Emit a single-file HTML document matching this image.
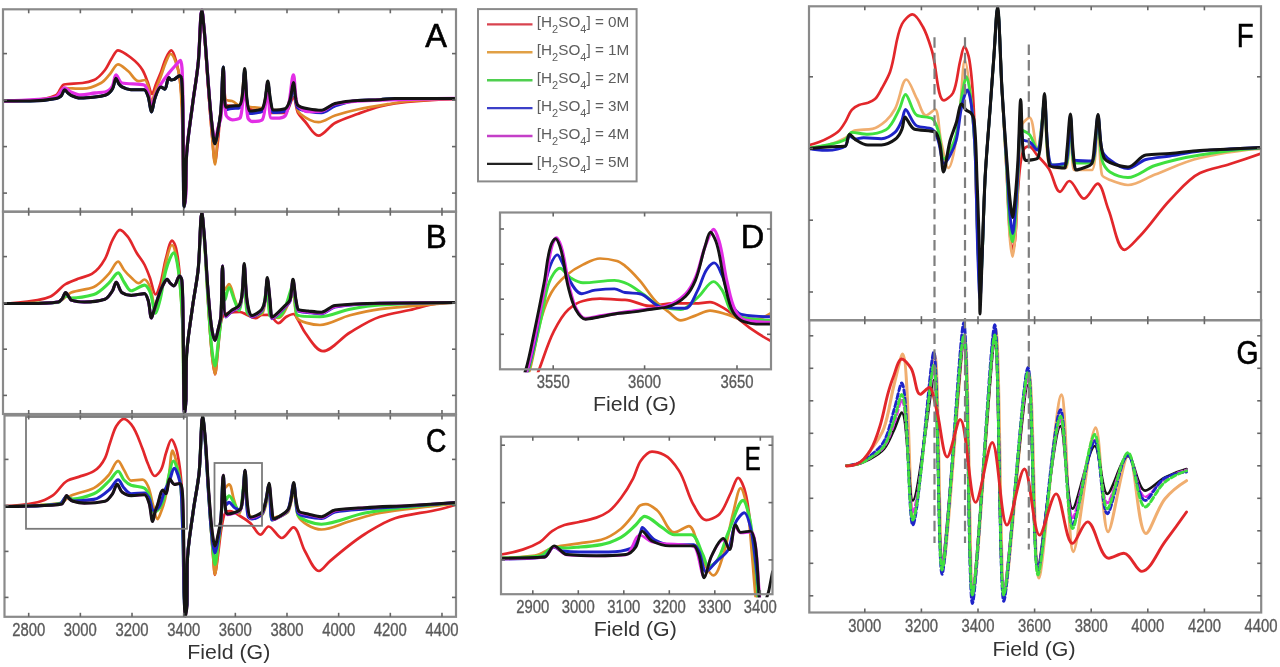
<!DOCTYPE html>
<html><head><meta charset="utf-8"><style>
html,body{margin:0;padding:0;background:#fff;overflow:hidden}
svg{display:block;font-family:"Liberation Sans",sans-serif;filter:blur(0.45px)}
</style></head><body>
<svg width="1280" height="667" viewBox="0 0 1280 667">
<rect width="1280" height="667" fill="#fff"/>
<defs>
<clipPath id="cA"><rect x="3.0" y="6.300000000000001" width="453.0" height="208.39999999999998"/></clipPath>
<clipPath id="cB"><rect x="3.0" y="208.7" width="453.0" height="208.3"/></clipPath>
<clipPath id="cC"><rect x="4.5" y="412.5" width="451.5" height="207.29999999999995"/></clipPath>
<clipPath id="cD"><rect x="500.0" y="209.5" width="271.0" height="162.8"/></clipPath>
<clipPath id="cE"><rect x="501.0" y="433.7" width="271.5" height="163.50000000000006"/></clipPath>
<clipPath id="cF"><rect x="809.0" y="3.3" width="452.0" height="319.9"/></clipPath>
<clipPath id="cG"><rect x="809.3" y="317.2" width="451.9000000000001" height="298.3"/></clipPath>
</defs>
<path d="M3.0,101.0C12.1,101.0 21.1,100.8 30.0,100.5C38.8,100.2 49.6,98.3 56.0,95.3C59.2,93.8 60.7,85.2 64.0,84.5C68.6,83.5 76.4,83.8 82.5,83.0C86.4,82.5 90.7,81.4 94.0,80.0C98.2,78.2 102.0,73.8 105.0,70.0C107.8,66.5 109.4,61.8 112.0,58.0C113.8,55.3 115.7,50.3 118.0,50.3C121.6,50.3 127.2,54.8 131.0,57.8C135.3,61.1 139.7,65.4 142.5,70.0C144.8,73.8 146.3,78.6 148.0,83.0C149.4,86.6 150.6,94.0 152.0,94.0C153.3,94.0 154.6,87.3 156.0,84.0C157.6,80.0 159.4,76.0 161.0,72.0C162.8,67.4 163.9,62.3 166.0,58.0C167.3,55.3 169.8,50.4 171.3,50.4C173.1,50.4 175.0,57.1 176.0,60.6C177.9,67.1 179.2,74.2 180.0,81.0C181.2,90.6 182.1,100.3 182.5,110.0C183.6,136.6 182.6,190.0 184.5,190.0C184.5,190.0 186.0,190.0 186.0,190.0C186.3,190.0 186.1,170.0 186.3,160.0C186.6,141.6 190.2,123.3 192.5,105.0C194.3,90.6 196.9,76.4 198.3,62.0C199.9,45.4 200.4,12.0 201.9,12.0C202.5,12.0 203.4,24.0 204.0,30.0C205.7,48.3 206.6,66.7 208.0,85.0C209.3,101.7 210.4,118.4 212.0,135.0C212.9,144.0 213.9,162.0 215.0,162.0C215.9,162.0 217.2,147.3 218.0,140.0C219.2,129.4 219.7,118.6 221.0,108.0C221.6,102.6 222.6,92.0 223.5,92.0C224.3,92.0 224.6,104.4 226.0,105.0C227.5,105.6 237.3,106.0 240.0,106.0C242.2,106.0 243.5,96.0 244.7,96.0C246.1,96.0 246.3,106.6 248.0,108.0C250.0,109.7 259.4,111.0 262.0,111.0C264.8,111.0 266.5,97.0 267.8,97.0C269.2,97.0 269.2,113.0 271.0,113.0C272.6,113.0 282.0,113.0 285.0,113.0C288.9,113.0 291.3,97.0 293.4,97.0C295.3,97.0 295.8,108.3 298.0,113.0C299.5,116.1 302.6,118.7 305.0,121.5C309.3,126.4 313.7,135.7 318.5,135.7C323.6,135.7 329.1,126.2 335.0,123.0C341.9,119.2 349.9,116.8 357.5,114.0C364.9,111.3 372.4,108.4 380.0,106.5C384.9,105.3 390.0,104.2 395.0,103.5C403.3,102.4 411.7,101.6 420.0,101.0C432.0,100.1 444.0,99.4 456.0,99.0" fill="none" stroke="#e2272b" stroke-width="2.7" stroke-linejoin="round" stroke-linecap="round" clip-path="url(#cA)"/>
<path d="M3.0,101.0C25.5,101.0 42.4,99.9 56.0,97.0C59.1,96.3 60.8,88.0 64.0,88.0C68.9,88.0 76.5,88.7 82.5,88.7C88.8,88.7 95.8,85.8 101.0,83.0C104.4,81.2 107.1,77.1 110.0,74.0C112.8,70.9 115.0,64.4 118.0,64.4C120.9,64.4 124.9,68.6 128.0,71.0C131.8,74.0 134.5,81.2 138.7,81.2C140.5,81.2 143.7,80.0 145.0,80.0C146.4,80.0 147.3,83.9 148.0,86.0C149.7,91.1 150.1,102.0 151.5,102.0C152.4,102.0 153.8,95.3 155.0,92.0C156.9,86.6 159.0,81.3 161.0,76.0C162.7,71.3 164.0,66.5 166.0,62.0C167.3,59.2 169.0,54.0 170.6,54.0C172.4,54.0 174.9,59.8 176.0,63.0C177.9,68.3 179.5,74.3 180.0,80.0C181.5,96.4 181.9,113.3 182.5,130.0C183.3,151.7 182.9,195.0 184.5,195.0C184.6,195.0 186.0,191.7 186.0,190.0C186.2,180.3 186.1,170.0 186.3,160.0C186.6,141.6 190.2,123.3 192.5,105.0C194.3,90.6 197.0,76.4 198.3,62.0C199.9,44.7 200.4,10.0 201.9,10.0C202.5,10.0 203.4,23.3 204.0,30.0C205.6,48.3 206.6,66.7 208.0,85.0C209.3,101.7 210.5,118.4 212.0,135.0C212.9,144.8 214.0,164.4 215.0,164.4C216.0,164.4 216.8,142.8 218.0,132.0C218.9,124.0 220.3,116.0 221.0,108.0C222.0,96.0 222.4,72.0 223.3,72.0C224.0,72.0 224.0,97.7 226.0,100.0C226.4,100.5 230.2,100.5 232.0,101.0C234.5,101.7 238.1,105.6 239.0,105.6C242.7,105.6 243.3,72.0 244.7,72.0C246.1,72.0 245.7,103.4 248.0,106.0C248.9,107.1 260.1,108.0 262.0,108.0C265.3,108.0 266.5,84.0 267.8,84.0C269.2,84.0 268.9,110.0 271.0,110.0C272.1,110.0 282.6,110.0 285.0,110.0C289.5,110.0 291.4,85.0 293.4,85.0C295.4,85.0 295.2,103.6 298.0,111.0C298.4,112.1 299.6,113.2 300.5,114.0C305.3,117.8 312.4,122.2 318.5,122.2C324.0,122.2 329.4,117.3 335.0,115.5C342.3,113.1 349.9,111.1 357.5,109.5C367.4,107.4 377.5,105.8 387.5,104.2C395.0,103.0 402.5,101.6 410.0,101.0C425.3,99.8 440.6,98.8 456.0,98.8" fill="none" stroke="#de8a2c" stroke-width="2.7" stroke-linejoin="round" stroke-linecap="round" clip-path="url(#cA)"/>
<path d="M3.0,101.0C12.0,101.0 21.0,101.0 30.0,101.0C38.7,101.0 47.9,100.1 56.0,98.5C57.7,98.2 59.8,97.1 61.0,96.0C62.6,94.6 63.2,89.7 64.7,89.7C65.6,89.7 66.8,92.0 68.0,93.0C68.9,93.8 69.9,94.8 71.0,95.3C73.9,96.6 77.3,98.0 80.6,98.0C85.3,98.0 90.2,97.5 95.0,97.0C98.4,96.7 102.1,96.2 105.0,95.3C107.8,94.4 111.0,91.4 112.5,88.8C114.2,86.0 114.6,78.4 116.0,78.4C116.8,78.4 117.8,82.4 119.0,84.0C119.8,85.1 120.9,86.3 122.0,86.9C124.5,88.3 127.9,89.7 131.0,89.7C135.2,89.7 141.1,89.7 144.0,89.7C145.7,89.7 147.2,93.8 148.0,96.0C149.8,100.9 150.3,112.0 151.5,112.0C152.6,112.0 153.4,102.4 155.0,98.0C156.4,94.2 158.3,87.0 161.0,87.0C161.9,87.0 163.9,89.1 164.7,89.1C166.9,89.1 166.9,77.6 168.9,77.6C169.4,77.6 170.2,80.0 171.0,80.0C171.8,80.0 173.1,79.7 174.0,79.4C176.0,78.8 178.0,75.9 179.6,75.9C180.3,75.9 181.4,77.2 181.5,78.0C182.3,82.7 182.3,89.3 182.5,95.0C183.6,132.3 183.0,207.0 184.2,207.0C184.3,207.0 185.3,199.0 185.5,195.0C186.0,183.4 185.9,171.6 186.3,160.0C187.0,141.6 190.2,123.3 192.5,105.0C194.3,90.6 197.0,76.4 198.3,62.0C199.9,44.7 200.3,10.0 201.9,10.0C202.4,10.0 203.4,22.0 204.0,28.0C205.7,45.3 206.6,62.7 208.0,80.0C209.2,95.0 210.2,110.1 212.0,125.0C212.7,131.3 213.8,143.8 215.0,143.8C215.9,143.8 217.2,134.6 218.0,130.0C219.1,124.0 220.3,118.0 220.8,112.0C222.1,97.1 222.4,67.0 223.3,67.0C224.1,67.0 223.8,108.8 225.8,108.8C226.1,108.8 229.9,107.7 232.0,107.5C234.3,107.3 237.7,107.3 239.0,107.1C240.5,106.8 241.6,102.1 242.0,99.5C243.6,90.1 243.9,70.0 244.7,70.0C245.6,70.0 245.7,91.2 247.0,101.5C247.5,105.2 248.3,112.5 249.7,112.5C251.3,112.5 260.1,111.7 262.0,110.5C263.5,109.6 264.3,104.6 265.0,101.5C266.3,95.3 266.9,82.5 267.8,82.5C268.7,82.5 269.3,95.2 270.5,101.5C271.1,104.9 271.7,111.5 273.0,111.5C274.5,111.5 282.4,111.0 285.0,110.2C287.2,109.5 289.0,104.6 290.0,101.5C291.7,96.1 292.4,84.0 293.4,84.0C294.4,84.0 294.8,95.8 296.0,101.5C296.4,103.2 296.8,105.6 297.5,106.5C299.0,108.4 304.4,109.6 308.0,110.2C312.4,111.0 317.2,111.7 321.5,111.7C326.2,111.7 330.3,106.4 335.0,105.0C342.1,102.9 349.9,101.0 357.5,100.5C364.9,100.0 372.5,100.1 380.0,99.7C385.0,99.4 390.0,98.5 395.0,98.5C415.3,98.5 435.6,98.5 456.0,98.5" fill="none" stroke="#3fe03f" stroke-width="2.7" stroke-linejoin="round" stroke-linecap="round" clip-path="url(#cA)"/>
<path d="M3.0,101.0C12.0,101.0 21.0,101.0 30.0,101.0C38.7,101.0 47.9,100.1 56.0,98.5C57.7,98.2 59.8,97.1 61.0,96.0C62.6,94.6 63.2,89.7 64.7,89.7C65.6,89.7 66.8,92.0 68.0,93.0C68.9,93.8 69.9,94.8 71.0,95.3C73.9,96.6 77.3,98.0 80.6,98.0C85.3,98.0 90.2,97.5 95.0,97.0C98.4,96.7 102.1,96.2 105.0,95.3C107.8,94.4 111.0,91.4 112.5,88.8C114.2,86.0 114.6,78.4 116.0,78.4C116.8,78.4 117.8,82.4 119.0,84.0C119.8,85.1 120.9,86.3 122.0,86.9C124.5,88.3 127.9,89.7 131.0,89.7C135.2,89.7 141.1,89.7 144.0,89.7C145.7,89.7 147.2,93.8 148.0,96.0C149.8,100.9 150.3,112.0 151.5,112.0C152.6,112.0 153.4,102.4 155.0,98.0C156.4,94.2 158.3,87.0 161.0,87.0C161.9,87.0 163.9,89.1 164.7,89.1C166.9,89.1 166.9,77.6 168.9,77.6C169.4,77.6 170.2,80.0 171.0,80.0C171.8,80.0 173.1,79.7 174.0,79.4C176.0,78.8 178.0,75.9 179.6,75.9C180.3,75.9 181.4,77.2 181.5,78.0C182.3,82.7 182.3,89.3 182.5,95.0C183.6,132.3 183.0,207.0 184.2,207.0C184.3,207.0 185.3,199.0 185.5,195.0C186.0,183.4 185.9,171.6 186.3,160.0C187.0,141.6 190.2,123.3 192.5,105.0C194.3,90.6 197.0,76.4 198.3,62.0C199.9,44.7 200.3,10.0 201.9,10.0C202.4,10.0 203.4,22.0 204.0,28.0C205.7,45.3 206.6,62.7 208.0,80.0C209.2,95.0 210.2,110.1 212.0,125.0C212.7,131.3 213.8,143.8 215.0,143.8C215.9,143.8 217.2,134.6 218.0,130.0C219.1,124.0 220.3,118.0 220.8,112.0C222.1,97.1 222.4,67.0 223.3,67.0C224.1,67.0 223.8,109.8 225.8,109.8C226.1,109.8 229.9,108.7 232.0,108.5C234.3,108.3 237.7,108.3 239.0,108.1C240.5,107.8 241.6,103.1 242.0,100.5C243.6,91.1 243.9,71.0 244.7,71.0C245.6,71.0 245.7,92.2 247.0,102.5C247.5,106.2 248.3,113.5 249.7,113.5C251.3,113.5 260.1,112.7 262.0,111.5C263.5,110.6 264.3,105.6 265.0,102.5C266.3,96.3 266.9,83.5 267.8,83.5C268.7,83.5 269.3,96.2 270.5,102.5C271.1,105.9 271.7,112.5 273.0,112.5C274.5,112.5 282.4,112.0 285.0,111.2C287.2,110.5 289.0,105.6 290.0,102.5C291.7,97.1 292.4,85.0 293.4,85.0C294.4,85.0 294.8,96.8 296.0,102.5C296.4,104.2 296.8,106.6 297.5,107.5C299.0,109.4 304.4,110.6 308.0,111.2C312.4,112.0 317.2,112.7 321.5,112.7C326.2,112.7 330.3,107.6 335.0,106.0C342.2,103.6 349.9,101.0 357.5,100.5C364.9,100.0 372.5,100.1 380.0,99.7C385.0,99.4 390.0,98.5 395.0,98.5C415.3,98.5 435.6,98.5 456.0,98.5" fill="none" stroke="#1f24c8" stroke-width="3.0999999999999996" stroke-linejoin="round" stroke-linecap="round" clip-path="url(#cA)"/>
<path d="M3.0,101.0C12.0,101.0 21.0,100.5 30.0,100.0C38.7,99.5 49.0,98.9 56.0,97.0C59.3,96.1 61.5,88.0 64.7,88.0C66.6,88.0 68.8,91.0 71.0,92.0C74.0,93.3 77.3,95.0 80.6,95.0C85.3,95.0 90.2,93.6 95.0,93.0C98.3,92.6 102.1,92.6 105.0,92.0C107.8,91.4 111.1,88.4 112.5,86.0C114.2,83.1 114.4,75.0 116.0,75.0C117.4,75.0 119.6,82.4 122.0,83.0C127.3,84.3 139.4,83.6 144.0,85.0C145.7,85.5 147.2,89.5 148.0,92.0C149.7,97.0 150.2,108.0 151.5,108.0C152.5,108.0 153.6,99.9 155.0,96.0C156.5,91.9 158.7,87.8 161.0,84.0C163.3,80.2 166.1,76.5 168.9,73.0C170.8,70.6 172.9,68.3 175.0,66.0C176.8,64.1 179.6,60.3 180.4,60.3C181.2,60.3 181.8,65.4 182.0,68.0C182.5,76.9 182.6,86.0 182.8,95.0C183.6,131.7 183.2,205.0 184.5,205.0C184.6,205.0 185.7,198.3 185.8,195.0C186.2,183.4 186.0,171.6 186.3,160.0C186.7,141.6 190.2,123.3 192.5,105.0C194.3,90.6 197.0,76.4 198.3,62.0C199.9,44.7 200.3,10.0 201.9,10.0C202.4,10.0 203.4,22.0 204.0,28.0C205.7,45.3 206.6,62.7 208.0,80.0C209.2,95.0 210.1,110.1 212.0,125.0C212.7,130.4 213.9,141.0 215.0,141.0C215.9,141.0 216.9,132.3 218.0,128.0C218.9,124.3 220.6,120.7 221.0,117.0C222.5,101.7 222.5,70.0 223.3,70.0C224.1,70.0 223.9,104.4 226.0,115.0C226.4,116.9 230.1,119.8 232.4,119.8C234.7,119.8 239.4,118.9 240.0,118.0C243.5,113.3 243.4,75.0 244.7,75.0C246.0,75.0 245.5,107.4 248.0,118.0C248.3,119.3 250.6,121.5 252.2,121.5C255.0,121.5 261.0,120.8 262.0,120.0C265.9,117.1 266.4,83.0 267.8,83.0C269.1,83.0 268.6,117.4 271.0,118.0C271.4,118.1 275.0,118.2 276.9,118.2C279.7,118.2 283.9,117.0 285.0,116.0C290.4,110.9 291.3,75.0 293.4,75.0C294.9,75.0 294.7,97.1 297.0,104.0C298.1,107.1 304.0,111.7 308.0,111.7C312.1,111.7 317.3,111.4 321.5,111.0C326.3,110.5 330.3,105.1 335.0,104.0C342.1,102.4 350.0,101.5 357.5,101.0C365.0,100.5 372.5,100.2 380.0,100.0C405.3,99.3 430.7,98.5 456.0,98.5" fill="none" stroke="#e22ee6" stroke-width="3.3" stroke-linejoin="round" stroke-linecap="round" clip-path="url(#cA)"/>
<path d="M3.0,101.0C12.0,101.0 21.0,101.0 30.0,101.0C38.7,101.0 47.9,100.1 56.0,98.5C57.7,98.2 59.8,97.1 61.0,96.0C62.6,94.6 63.2,89.7 64.7,89.7C65.6,89.7 66.8,92.0 68.0,93.0C68.9,93.8 69.9,94.8 71.0,95.3C73.9,96.6 77.3,98.0 80.6,98.0C85.3,98.0 90.2,97.5 95.0,97.0C98.4,96.7 102.1,96.2 105.0,95.3C107.8,94.4 111.0,91.4 112.5,88.8C114.2,86.0 114.6,78.4 116.0,78.4C116.8,78.4 117.8,82.4 119.0,84.0C119.8,85.1 120.9,86.3 122.0,86.9C124.5,88.3 127.9,89.7 131.0,89.7C135.2,89.7 141.1,89.7 144.0,89.7C145.7,89.7 147.2,93.8 148.0,96.0C149.8,100.9 150.3,112.0 151.5,112.0C152.6,112.0 153.4,102.4 155.0,98.0C156.4,94.2 158.3,87.0 161.0,87.0C161.9,87.0 163.9,89.1 164.7,89.1C166.9,89.1 166.9,77.6 168.9,77.6C169.4,77.6 170.2,80.0 171.0,80.0C171.8,80.0 173.1,79.7 174.0,79.4C176.0,78.8 178.0,75.9 179.6,75.9C180.3,75.9 181.4,77.2 181.5,78.0C182.3,82.7 182.3,89.3 182.5,95.0C183.6,132.3 183.0,207.0 184.2,207.0C184.3,207.0 185.3,199.0 185.5,195.0C186.0,183.4 185.9,171.6 186.3,160.0C187.0,141.6 190.2,123.3 192.5,105.0C194.3,90.6 197.0,76.4 198.3,62.0C199.9,44.7 200.3,10.0 201.9,10.0C202.4,10.0 203.4,22.0 204.0,28.0C205.7,45.3 206.6,62.7 208.0,80.0C209.2,95.0 210.2,110.1 212.0,125.0C212.7,131.3 213.8,143.8 215.0,143.8C215.9,143.8 217.2,134.6 218.0,130.0C219.1,124.0 220.3,118.0 220.8,112.0C222.1,97.1 222.4,67.0 223.3,67.0C224.1,67.0 223.8,107.3 225.8,107.3C226.1,107.3 229.9,106.2 232.0,106.0C234.3,105.8 237.7,105.8 239.0,105.6C240.5,105.3 241.6,100.6 242.0,98.0C243.6,88.6 243.9,68.5 244.7,68.5C245.6,68.5 245.7,89.7 247.0,100.0C247.5,103.7 248.3,111.0 249.7,111.0C251.3,111.0 260.1,110.2 262.0,109.0C263.5,108.1 264.3,103.1 265.0,100.0C266.3,93.8 266.9,81.0 267.8,81.0C268.7,81.0 269.3,93.7 270.5,100.0C271.1,103.4 271.7,110.0 273.0,110.0C274.5,110.0 282.4,109.5 285.0,108.7C287.2,108.0 289.0,103.1 290.0,100.0C291.7,94.6 292.4,82.5 293.4,82.5C294.4,82.5 294.8,94.3 296.0,100.0C296.4,101.7 296.8,104.1 297.5,105.0C299.0,106.9 304.4,108.1 308.0,108.7C312.4,109.5 317.2,110.2 321.5,110.2C326.2,110.2 330.3,104.6 335.0,103.5C342.1,101.9 350.0,100.9 357.5,100.5C365.0,100.1 372.5,100.1 380.0,99.7C385.0,99.4 390.0,98.5 395.0,98.5C415.3,98.5 435.6,98.5 456.0,98.5" fill="none" stroke="#141414" stroke-width="3.0999999999999996" stroke-linejoin="round" stroke-linecap="round" clip-path="url(#cA)"/>
<path d="M3.0,303.5C14.8,303.5 26.2,301.9 37.5,300.1C41.9,299.4 46.7,298.1 50.6,296.4C56.2,294.0 60.2,287.3 65.6,284.2C69.6,281.9 74.3,280.3 78.8,278.6C83.1,276.9 88.3,276.0 91.9,273.9C97.1,270.9 101.9,264.4 105.0,258.9C108.2,253.3 109.4,245.9 112.5,240.1C114.5,236.4 117.2,229.8 120.0,229.8C122.2,229.8 125.5,233.9 127.5,236.4C131.4,241.2 133.5,247.8 136.9,253.3C139.2,257.1 142.4,260.6 144.4,264.5C146.6,268.8 148.3,273.4 150.0,278.0C152.0,283.4 153.5,294.5 155.6,294.5C156.9,294.5 159.0,288.3 160.0,285.0C162.8,276.4 163.5,266.8 166.0,258.0C167.7,252.1 169.8,240.5 172.2,240.5C173.3,240.5 175.4,245.4 176.0,248.0C178.3,257.4 179.2,268.0 180.0,278.0C181.4,295.3 182.2,312.7 182.8,330.0C183.6,355.0 183.1,405.0 184.5,405.0C184.6,405.0 186.0,401.7 186.0,400.0C186.3,387.7 186.1,374.6 186.3,362.0C186.6,343.6 190.1,325.3 192.5,307.0C194.2,294.0 197.1,281.1 198.3,268.0C200.0,249.8 200.4,213.0 201.9,213.0C202.5,213.0 203.4,227.7 204.0,235.0C205.7,256.6 206.6,278.3 208.0,300.0C209.2,318.3 210.1,336.8 212.0,355.0C212.7,361.5 214.1,374.3 215.0,374.3C216.1,374.3 217.0,358.1 218.0,350.0C219.3,339.3 219.3,326.0 222.0,318.0C222.7,316.1 225.8,313.4 228.0,313.0C231.5,312.4 236.2,312.0 240.0,312.0C242.5,312.0 244.8,313.9 247.2,314.9C250.0,316.0 252.8,318.2 255.5,318.2C257.7,318.2 259.7,315.1 262.0,315.0C264.1,314.9 266.7,314.9 268.6,314.9C272.4,314.9 275.2,323.1 278.5,323.1C281.0,323.1 283.3,318.5 286.0,317.0C288.3,315.8 291.4,314.0 293.4,314.0C295.2,314.0 296.6,317.9 298.0,320.0C300.6,324.0 302.3,328.7 305.0,332.5C309.9,339.4 316.5,351.2 323.0,351.2C331.2,351.2 340.7,338.1 350.0,332.5C359.6,326.7 369.5,320.0 380.0,316.7C389.5,313.7 400.0,312.2 410.0,310.0C420.0,307.7 429.9,303.9 440.0,303.2C445.3,302.8 450.6,302.5 456.0,302.5" fill="none" stroke="#e2272b" stroke-width="2.7" stroke-linejoin="round" stroke-linecap="round" clip-path="url(#cB)"/>
<path d="M3.0,303.5C14.5,303.5 26.0,303.3 37.5,303.0C44.3,302.8 51.9,302.6 58.0,302.0C62.8,301.5 66.5,294.5 71.2,292.6C78.1,289.9 87.2,289.8 93.8,287.0C99.4,284.6 104.3,278.7 108.8,273.9C112.2,270.2 115.1,261.7 118.1,261.7C120.1,261.7 121.9,267.4 124.0,270.0C126.2,272.7 128.7,275.3 131.2,277.6C133.6,279.7 136.2,283.2 138.8,283.2C140.6,283.2 142.8,279.5 144.4,279.5C146.6,279.5 148.9,284.3 150.0,287.0C152.8,293.7 153.5,309.5 155.6,309.5C156.9,309.5 158.8,299.9 160.0,295.0C162.6,284.2 163.3,272.7 166.0,262.0C167.4,256.2 169.9,245.0 172.0,245.0C173.3,245.0 175.2,251.6 176.0,255.0C178.1,264.6 179.1,275.0 180.0,285.0C181.3,299.9 182.3,315.0 182.8,330.0C183.7,355.0 183.1,405.0 184.5,405.0C184.6,405.0 186.0,401.7 186.0,400.0C186.3,387.7 186.1,374.6 186.3,362.0C186.6,343.6 190.1,325.3 192.5,307.0C194.2,294.0 197.1,281.1 198.3,268.0C200.0,249.8 200.4,213.0 201.9,213.0C202.5,213.0 203.4,227.7 204.0,235.0C205.7,256.6 206.6,278.3 208.0,300.0C209.2,318.3 210.1,336.8 212.0,355.0C212.7,361.4 214.2,374.0 215.0,374.0C216.2,374.0 217.0,354.7 218.0,345.0C219.0,335.0 220.4,325.0 221.0,315.0C221.7,301.7 221.6,275.0 222.5,275.0C222.8,275.0 223.6,290.0 225.0,290.0C225.7,290.0 227.9,284.0 229.0,284.0C231.5,284.0 232.8,294.7 235.0,300.0C236.2,303.0 238.1,309.0 239.0,309.0C241.6,309.0 243.0,280.0 244.2,280.0C245.4,280.0 245.1,301.5 247.0,310.0C247.5,312.2 250.0,316.0 252.0,316.0C254.6,316.0 260.7,315.0 262.0,314.0C265.2,311.5 266.1,290.0 267.3,290.0C268.5,290.0 268.2,309.3 270.0,314.0C270.7,315.7 275.9,318.0 278.0,318.0C284.5,318.0 290.6,295.0 293.0,295.0C295.0,295.0 294.7,314.5 297.0,318.0C299.3,321.6 312.4,325.0 320.0,325.0C330.0,325.0 339.8,317.7 350.0,315.2C359.8,312.8 369.9,310.5 380.0,309.2C394.9,307.3 410.0,306.3 425.0,305.0C435.3,304.1 445.7,303.3 456.0,302.5" fill="none" stroke="#de8a2c" stroke-width="2.7" stroke-linejoin="round" stroke-linecap="round" clip-path="url(#cB)"/>
<path d="M3.0,303.5C24.8,303.5 42.4,303.3 58.0,302.5C60.9,302.3 63.1,296.0 66.0,296.0C67.6,296.0 69.5,298.0 71.2,298.0C78.5,298.0 87.1,296.4 93.8,294.5C99.3,292.9 104.2,287.4 108.8,283.2C112.1,280.1 115.3,272.9 118.1,272.9C120.3,272.9 121.9,279.1 124.0,282.0C126.2,285.0 128.4,290.8 131.2,290.8C134.8,290.8 140.9,285.1 144.4,285.1C146.6,285.1 148.9,289.5 150.0,292.0C152.8,298.2 153.5,313.2 155.6,313.2C156.9,313.2 158.8,304.5 160.0,300.0C162.5,290.2 163.2,279.6 166.0,270.0C167.7,264.1 171.5,252.9 173.8,252.9C175.0,252.9 176.4,258.9 177.0,262.0C178.8,271.1 179.7,280.6 180.5,290.0C181.6,303.3 182.3,316.7 182.8,330.0C183.6,355.0 183.1,405.0 184.5,405.0C184.6,405.0 186.0,401.7 186.0,400.0C186.3,387.7 186.1,374.6 186.3,362.0C186.6,343.6 190.1,325.3 192.5,307.0C194.2,294.0 197.1,281.1 198.3,268.0C200.0,249.8 200.4,213.0 201.9,213.0C202.5,213.0 203.4,227.7 204.0,235.0C205.7,256.6 206.5,278.3 208.0,300.0C209.2,316.7 210.0,333.5 212.0,350.0C212.6,355.4 214.1,366.0 215.0,366.0C216.1,366.0 217.1,352.0 218.0,345.0C219.1,336.0 220.5,327.0 221.0,318.0C221.8,302.0 221.7,270.0 222.5,270.0C223.0,270.0 223.6,300.0 225.0,300.0C225.6,300.0 227.5,287.5 229.0,287.5C230.8,287.5 232.9,297.2 235.0,302.0C236.3,304.9 238.3,310.6 239.0,310.6C241.9,310.6 243.0,272.0 244.2,272.0C245.4,272.0 244.9,302.3 247.0,312.0C247.3,313.6 250.2,316.0 252.0,316.0C255.0,316.0 260.8,313.8 262.0,312.0C265.3,306.9 266.2,282.0 267.3,282.0C268.5,282.0 268.0,313.8 270.0,316.0C270.5,316.5 276.3,317.0 278.0,317.0C285.6,317.0 290.7,285.0 293.0,285.0C295.0,285.0 294.6,313.7 297.0,315.0C298.9,316.0 312.4,316.7 320.0,316.7C330.1,316.7 339.9,311.0 350.0,309.2C359.9,307.4 370.0,305.6 380.0,305.0C405.2,303.5 430.5,302.5 456.0,302.5" fill="none" stroke="#3fe03f" stroke-width="3.0999999999999996" stroke-linejoin="round" stroke-linecap="round" clip-path="url(#cB)"/>
<path d="M3.0,303.5C12.0,303.5 21.0,303.5 30.0,303.5C39.4,303.5 50.0,303.1 58.1,302.0C59.5,301.8 61.0,300.2 62.0,299.0C63.5,297.3 64.3,292.6 65.6,292.6C66.6,292.6 67.9,295.5 69.0,297.0C69.8,298.0 70.4,299.7 71.2,300.1C74.4,301.3 80.0,302.0 84.4,302.0C91.3,302.0 99.6,300.9 105.0,299.2C107.9,298.3 110.6,293.9 112.5,290.8C114.0,288.2 114.9,282.3 116.2,282.3C118.0,282.3 119.4,290.9 121.9,292.6C124.0,294.0 128.1,295.4 131.2,295.4C135.6,295.4 141.6,293.6 144.4,293.6C146.0,293.6 147.4,297.8 148.1,300.1C149.9,305.7 150.0,318.0 151.5,318.0C152.0,318.0 152.8,314.0 153.5,312.0C155.7,305.3 157.5,298.5 160.0,292.0C160.9,289.6 161.8,287.2 163.0,285.0C164.1,283.0 165.8,279.3 167.2,279.3C168.1,279.3 168.9,281.9 170.0,283.0C171.1,284.1 172.8,285.9 173.8,285.9C176.2,285.9 177.7,276.0 179.6,276.0C180.3,276.0 181.6,278.6 181.8,280.0C182.5,286.1 182.6,293.3 182.8,300.0C183.8,338.0 183.3,414.0 184.5,414.0C184.7,414.0 185.9,404.7 186.0,400.0C186.2,387.4 186.1,374.6 186.3,362.0C186.6,343.6 190.1,325.3 192.5,307.0C194.2,294.0 197.1,281.1 198.3,268.0C200.0,249.6 200.3,212.5 201.9,212.5C202.4,212.5 203.4,225.5 204.0,232.0C205.7,251.3 206.4,270.7 208.0,290.0C209.1,303.3 209.9,316.9 212.0,330.0C212.6,333.5 214.0,340.5 215.0,340.5C216.0,340.5 217.2,333.5 218.0,330.0C219.2,325.1 220.7,320.0 221.0,315.0C222.0,298.9 221.8,266.0 222.5,266.0C223.2,266.0 223.3,317.1 225.8,317.1C226.2,317.1 229.8,313.1 232.0,311.5C234.2,309.9 237.8,309.0 239.0,307.2C240.6,304.7 241.5,300.1 242.0,296.5C243.3,286.2 243.4,265.1 244.2,265.1C245.1,265.1 245.4,289.7 247.0,301.5C247.7,306.8 249.5,317.1 252.0,317.1C253.8,317.1 260.2,313.3 262.0,310.5C263.4,308.3 264.5,304.6 265.0,301.5C266.2,294.2 266.5,279.1 267.3,279.1C268.1,279.1 269.1,294.0 270.0,301.5C270.7,307.2 270.8,318.7 272.0,318.7C273.2,318.7 281.0,311.3 285.0,307.2C286.8,305.4 289.3,303.6 290.0,301.5C291.8,295.7 292.0,280.8 293.0,280.8C294.0,280.8 294.7,294.7 296.0,301.5C296.6,304.7 297.1,310.1 298.3,311.0C299.5,311.9 304.8,312.1 308.0,312.5C312.5,313.0 317.2,313.7 321.5,313.7C326.2,313.7 330.3,307.8 335.0,307.0C349.1,304.6 365.0,303.5 380.0,303.2C405.3,302.7 430.6,302.5 456.0,302.5" fill="none" stroke="#1f24c8" stroke-width="2.9000000000000004" stroke-linejoin="round" stroke-linecap="round" clip-path="url(#cB)"/>
<path d="M3.0,303.5C12.0,303.5 21.0,303.5 30.0,303.5C39.4,303.5 50.0,303.1 58.1,302.0C59.5,301.8 61.0,300.2 62.0,299.0C63.5,297.3 64.3,292.6 65.6,292.6C66.6,292.6 67.9,295.5 69.0,297.0C69.8,298.0 70.4,299.7 71.2,300.1C74.4,301.3 80.0,302.0 84.4,302.0C91.3,302.0 99.6,300.9 105.0,299.2C107.9,298.3 110.6,293.9 112.5,290.8C114.0,288.2 114.9,282.3 116.2,282.3C118.0,282.3 119.4,290.9 121.9,292.6C124.0,294.0 128.1,295.4 131.2,295.4C135.6,295.4 141.6,293.6 144.4,293.6C146.0,293.6 147.4,297.8 148.1,300.1C149.9,305.7 150.0,318.0 151.5,318.0C152.0,318.0 152.8,314.0 153.5,312.0C155.7,305.3 157.5,298.5 160.0,292.0C160.9,289.6 161.8,287.2 163.0,285.0C164.1,283.0 165.8,279.3 167.2,279.3C168.1,279.3 168.9,281.9 170.0,283.0C171.1,284.1 172.8,285.9 173.8,285.9C176.2,285.9 177.7,276.0 179.6,276.0C180.3,276.0 181.6,278.6 181.8,280.0C182.5,286.1 182.6,293.3 182.8,300.0C183.8,338.0 183.3,414.0 184.5,414.0C184.7,414.0 185.9,404.7 186.0,400.0C186.2,387.4 186.1,374.6 186.3,362.0C186.6,343.6 190.1,325.3 192.5,307.0C194.2,294.0 197.1,281.1 198.3,268.0C200.0,249.6 200.3,212.5 201.9,212.5C202.4,212.5 203.4,225.5 204.0,232.0C205.7,251.3 206.4,270.7 208.0,290.0C209.1,303.3 209.9,316.9 212.0,330.0C212.6,333.5 214.0,340.5 215.0,340.5C216.0,340.5 217.2,333.5 218.0,330.0C219.2,325.1 220.7,320.0 221.0,315.0C222.0,298.9 221.8,266.0 222.5,266.0C223.2,266.0 223.3,316.6 225.8,316.6C226.2,316.6 229.8,312.6 232.0,311.0C234.2,309.4 237.8,308.5 239.0,306.7C240.6,304.2 241.5,299.6 242.0,296.0C243.3,285.7 243.4,264.6 244.2,264.6C245.1,264.6 245.4,289.2 247.0,301.0C247.7,306.3 249.5,316.6 252.0,316.6C253.8,316.6 260.2,312.8 262.0,310.0C263.4,307.8 264.5,304.1 265.0,301.0C266.2,293.7 266.5,278.6 267.3,278.6C268.1,278.6 269.1,293.5 270.0,301.0C270.7,306.7 270.8,318.2 272.0,318.2C273.2,318.2 281.0,310.8 285.0,306.7C286.8,304.9 289.3,303.1 290.0,301.0C291.8,295.2 292.0,280.3 293.0,280.3C294.0,280.3 294.7,294.2 296.0,301.0C296.6,304.2 297.1,309.6 298.3,310.5C299.5,311.4 304.8,311.6 308.0,312.0C312.5,312.5 317.2,313.2 321.5,313.2C326.2,313.2 330.3,307.2 335.0,306.5C349.1,304.4 365.0,303.5 380.0,303.2C405.3,302.8 430.6,302.5 456.0,302.5" fill="none" stroke="#e22ee6" stroke-width="2.9000000000000004" stroke-linejoin="round" stroke-linecap="round" clip-path="url(#cB)"/>
<path d="M3.0,303.5C12.0,303.5 21.0,303.5 30.0,303.5C39.4,303.5 50.0,303.1 58.1,302.0C59.5,301.8 61.0,300.2 62.0,299.0C63.5,297.3 64.3,292.6 65.6,292.6C66.6,292.6 67.9,295.5 69.0,297.0C69.8,298.0 70.4,299.7 71.2,300.1C74.4,301.3 80.0,302.0 84.4,302.0C91.3,302.0 99.6,300.9 105.0,299.2C107.9,298.3 110.6,293.9 112.5,290.8C114.0,288.2 114.9,282.3 116.2,282.3C118.0,282.3 119.4,290.9 121.9,292.6C124.0,294.0 128.1,295.4 131.2,295.4C135.6,295.4 141.6,293.6 144.4,293.6C146.0,293.6 147.4,297.8 148.1,300.1C149.9,305.7 150.0,318.0 151.5,318.0C152.0,318.0 152.8,314.0 153.5,312.0C155.7,305.3 157.5,298.5 160.0,292.0C160.9,289.6 161.8,287.2 163.0,285.0C164.1,283.0 165.8,279.3 167.2,279.3C168.1,279.3 168.9,281.9 170.0,283.0C171.1,284.1 172.8,285.9 173.8,285.9C176.2,285.9 177.7,276.0 179.6,276.0C180.3,276.0 181.6,278.6 181.8,280.0C182.5,286.1 182.6,293.3 182.8,300.0C183.8,338.0 183.3,414.0 184.5,414.0C184.7,414.0 185.9,404.7 186.0,400.0C186.2,387.4 186.1,374.6 186.3,362.0C186.6,343.6 190.1,325.3 192.5,307.0C194.2,294.0 197.1,281.1 198.3,268.0C200.0,249.6 200.3,212.5 201.9,212.5C202.4,212.5 203.4,225.5 204.0,232.0C205.7,251.3 206.4,270.7 208.0,290.0C209.1,303.3 209.9,316.9 212.0,330.0C212.6,333.5 214.0,340.5 215.0,340.5C216.0,340.5 217.2,333.5 218.0,330.0C219.2,325.1 220.7,320.0 221.0,315.0C222.0,298.9 221.8,266.0 222.5,266.0C223.2,266.0 223.3,315.6 225.8,315.6C226.2,315.6 229.8,311.6 232.0,310.0C234.2,308.4 237.8,307.5 239.0,305.7C240.6,303.2 241.5,298.6 242.0,295.0C243.3,284.7 243.4,263.6 244.2,263.6C245.1,263.6 245.4,288.2 247.0,300.0C247.7,305.3 249.5,315.6 252.0,315.6C253.8,315.6 260.2,311.8 262.0,309.0C263.4,306.8 264.5,303.1 265.0,300.0C266.2,292.7 266.5,277.6 267.3,277.6C268.1,277.6 269.1,292.5 270.0,300.0C270.7,305.7 270.8,317.2 272.0,317.2C273.2,317.2 281.0,309.8 285.0,305.7C286.8,303.9 289.3,302.1 290.0,300.0C291.8,294.2 292.0,279.3 293.0,279.3C294.0,279.3 294.7,293.2 296.0,300.0C296.6,303.2 297.1,308.6 298.3,309.5C299.5,310.4 304.8,310.6 308.0,311.0C312.5,311.5 317.2,312.2 321.5,312.2C326.2,312.2 330.3,306.0 335.0,305.5C349.1,303.9 365.0,303.4 380.0,303.2C405.3,302.8 430.6,302.5 456.0,302.5" fill="none" stroke="#141414" stroke-width="3.0999999999999996" stroke-linejoin="round" stroke-linecap="round" clip-path="url(#cB)"/>
<path d="M4.5,506.0C16.1,506.0 27.0,504.3 37.5,502.2C42.7,501.2 48.1,498.4 52.5,495.6C58.2,492.0 61.7,483.6 67.5,480.6C70.7,478.9 75.0,478.2 78.8,476.9C83.8,475.1 89.6,473.8 93.8,471.2C98.2,468.5 102.6,463.0 105.0,458.1C107.2,453.6 108.2,448.0 110.0,443.0C112.0,437.4 113.4,431.0 116.2,426.2C118.0,423.4 121.1,418.8 123.8,418.8C126.1,418.8 129.4,422.2 131.2,424.4C136.4,430.7 139.2,440.5 142.5,448.8C144.5,453.8 145.8,459.1 148.0,464.0C149.9,468.2 152.1,476.0 154.8,476.0C156.6,476.0 160.0,471.9 161.2,469.4C163.6,464.8 164.2,458.4 166.0,453.0C167.6,448.5 169.6,439.6 171.5,439.6C173.3,439.6 176.2,448.1 177.2,452.5C179.8,464.4 181.2,477.5 181.9,490.0C182.8,506.6 183.0,523.3 183.5,540.0C184.2,561.7 183.6,605.0 185.4,605.0C185.4,605.0 187.0,605.0 187.0,605.0C187.2,605.0 187.1,578.3 187.2,565.0C187.4,546.6 191.0,528.3 193.4,510.0C195.1,497.3 198.0,484.7 199.2,472.0C200.9,453.8 201.2,417.0 202.7,417.0C203.3,417.0 204.4,431.0 205.0,438.0C206.7,458.6 207.6,479.3 209.0,500.0C210.3,518.3 211.4,536.7 213.0,555.0C213.6,561.7 214.2,575.0 215.0,575.0C215.8,575.0 217.1,561.7 218.0,555.0C219.4,545.0 220.1,534.8 222.0,525.0C222.9,520.6 223.7,513.6 226.0,512.0C226.7,511.5 228.7,511.0 230.0,511.0C233.5,511.0 236.8,514.1 240.0,516.0C243.6,518.1 247.4,520.5 250.5,523.2C254.2,526.5 257.0,534.7 260.4,534.7C263.0,534.7 265.8,526.5 268.6,526.5C272.8,526.5 277.5,538.0 281.8,538.0C285.7,538.0 290.5,527.3 293.4,527.3C298.4,527.3 300.6,543.6 305.0,551.2C309.0,558.1 313.7,571.0 319.0,571.0C322.2,571.0 326.2,564.3 330.0,561.1C341.2,551.6 352.6,541.8 365.0,534.0C374.5,528.1 384.5,521.4 395.0,518.2C409.2,513.9 425.2,512.8 440.0,509.2C445.4,507.9 450.7,506.3 456.0,504.7" fill="none" stroke="#e2272b" stroke-width="2.7" stroke-linejoin="round" stroke-linecap="round" clip-path="url(#cC)"/>
<path d="M4.5,506.5C16.4,506.4 28.2,505.7 40.0,505.0C46.7,504.6 53.9,504.2 60.0,503.0C64.1,502.2 67.3,497.4 71.2,495.6C78.2,492.3 87.1,491.5 93.8,488.1C99.3,485.2 104.5,479.9 108.8,475.0C112.3,470.8 115.0,460.9 118.1,460.9C120.1,460.9 122.0,467.0 124.0,470.0C126.4,473.6 128.1,480.6 131.2,480.6C134.0,480.6 139.6,479.7 142.5,479.7C144.7,479.7 147.0,483.8 148.1,486.2C150.6,491.7 151.2,498.8 153.0,505.0C154.4,509.7 155.7,519.1 157.5,519.1C158.5,519.1 160.0,514.4 161.0,512.0C162.6,507.9 164.0,503.7 165.0,499.4C166.8,491.4 167.8,483.1 169.0,475.0C170.2,466.9 170.9,450.6 172.5,450.6C173.5,450.6 176.1,460.5 177.2,465.6C178.9,473.6 180.4,481.8 181.0,490.0C182.1,506.6 182.4,523.3 183.0,540.0C183.8,561.7 183.2,605.0 185.4,605.0C185.5,605.0 187.0,605.0 187.0,605.0C187.2,605.0 187.1,578.3 187.2,565.0C187.4,546.6 191.0,528.3 193.4,510.0C195.1,497.3 198.0,484.7 199.2,472.0C200.9,453.8 201.2,417.0 202.7,417.0C203.3,417.0 204.4,431.0 205.0,438.0C206.7,458.6 207.6,479.3 209.0,500.0C210.3,518.3 211.4,536.7 213.0,555.0C213.6,561.4 214.3,574.3 215.0,574.3C215.9,574.3 217.1,558.1 218.0,550.0C219.1,540.0 220.1,530.0 221.0,520.0C221.9,510.0 221.5,498.4 223.3,490.0C223.5,489.3 224.4,488.6 225.0,488.0C226.2,486.7 228.2,484.3 229.0,484.3C231.5,484.3 232.2,494.8 234.0,500.0C235.6,504.7 237.8,514.0 239.0,514.0C241.8,514.0 243.6,480.0 245.0,480.0C246.3,480.0 245.9,502.9 248.0,512.0C248.4,513.8 250.4,517.0 252.0,517.0C254.6,517.0 260.4,516.0 262.0,515.0C265.9,512.6 267.7,492.0 269.0,492.0C270.4,492.0 270.1,518.0 272.0,518.0C273.2,518.0 285.5,514.9 288.0,512.0C291.0,508.5 292.2,492.0 293.7,492.0C295.5,492.0 295.6,510.6 298.0,516.0C300.6,522.0 313.2,529.5 321.4,529.5C330.4,529.5 340.4,523.9 350.0,521.2C360.0,518.4 369.9,514.9 380.0,513.0C394.8,510.3 410.0,508.8 425.0,507.0C435.3,505.7 445.7,504.6 456.0,503.5" fill="none" stroke="#de8a2c" stroke-width="2.7" stroke-linejoin="round" stroke-linecap="round" clip-path="url(#cC)"/>
<path d="M4.5,506.5C27.5,506.5 45.2,505.8 60.0,503.5C62.5,503.1 64.1,497.0 66.6,497.0C68.4,497.0 70.9,499.0 73.0,499.0C79.9,499.0 87.7,496.3 93.8,493.8C99.8,491.2 104.9,484.9 110.0,480.0C112.8,477.3 115.7,471.2 118.1,471.2C120.3,471.2 121.7,477.6 124.0,480.0C126.0,482.1 128.6,484.3 131.2,485.3C135.2,486.7 141.3,486.5 144.4,488.1C146.3,489.1 148.0,492.6 149.0,495.0C151.3,500.4 151.0,512.5 153.8,512.5C154.5,512.5 157.0,511.0 158.0,510.0C161.3,506.6 163.5,500.2 165.0,495.0C166.8,488.6 167.4,481.6 169.0,475.0C170.2,470.3 171.6,461.0 173.4,461.0C174.4,461.0 176.2,465.6 177.0,468.0C179.0,474.3 180.5,481.3 181.0,488.0C182.2,505.1 182.3,522.7 183.0,540.0C183.8,561.7 183.2,605.0 185.4,605.0C185.5,605.0 187.0,605.0 187.0,605.0C187.2,605.0 187.1,578.3 187.2,565.0C187.4,546.6 191.0,528.3 193.4,510.0C195.1,497.3 198.0,484.7 199.2,472.0C200.9,453.8 201.2,417.0 202.7,417.0C203.3,417.0 204.4,431.0 205.0,438.0C206.7,458.6 207.5,479.3 209.0,500.0C210.2,516.7 211.2,533.4 213.0,550.0C213.5,554.8 214.3,564.4 215.0,564.4C215.9,564.4 217.1,551.5 218.0,545.0C219.1,536.7 220.3,528.4 221.0,520.0C222.1,506.7 222.2,480.0 223.3,480.0C223.9,480.0 224.3,500.0 226.0,500.0C226.4,500.0 228.0,495.8 229.0,495.8C231.1,495.8 233.1,501.9 235.0,505.0C236.4,507.3 238.3,512.0 239.0,512.0C242.4,512.0 243.7,474.0 245.0,474.0C246.4,474.0 245.7,503.4 248.0,514.0C248.3,515.5 250.5,518.0 252.0,518.0C254.8,518.0 260.5,515.8 262.0,514.0C266.0,509.3 267.7,487.0 269.0,487.0C270.5,487.0 270.0,520.0 272.0,520.0C273.1,520.0 285.7,514.9 288.0,511.0C291.1,505.7 292.2,487.0 293.7,487.0C295.4,487.0 295.5,510.0 298.0,515.0C300.2,519.4 313.5,524.2 321.4,524.2C335.6,524.2 350.3,515.6 365.0,513.0C379.8,510.4 395.0,508.6 410.0,507.0C425.3,505.4 440.6,504.0 456.0,503.0" fill="none" stroke="#3fe03f" stroke-width="3.0999999999999996" stroke-linejoin="round" stroke-linecap="round" clip-path="url(#cC)"/>
<path d="M4.5,506.5C28.3,506.5 45.9,506.0 60.0,504.0C62.5,503.6 64.2,496.5 66.6,496.5C68.5,496.5 70.7,501.0 73.0,501.0C79.1,501.0 87.4,500.3 93.8,499.4C99.6,498.5 105.3,493.1 110.0,489.0C113.0,486.4 115.6,479.7 118.1,479.7C120.2,479.7 121.7,485.6 124.0,488.0C126.1,490.2 128.6,493.8 131.2,493.8C135.1,493.8 140.9,493.0 144.4,493.0C146.2,493.0 147.9,496.2 149.0,498.0C151.2,501.7 151.4,510.6 153.8,510.6C154.6,510.6 157.1,509.1 158.0,508.0C161.6,503.9 162.4,495.9 165.0,490.0C166.2,487.3 167.8,484.7 169.0,482.0C171.0,477.6 172.3,468.4 174.4,468.4C175.5,468.4 177.2,472.7 178.0,475.0C179.4,479.1 180.7,483.6 181.0,488.0C182.3,505.1 182.4,522.7 183.0,540.0C183.8,563.3 183.5,610.0 185.4,610.0C185.5,610.0 187.0,606.7 187.0,605.0C187.2,592.1 187.1,578.3 187.2,565.0C187.4,546.6 191.0,528.3 193.4,510.0C195.1,497.3 198.0,484.7 199.2,472.0C200.9,453.8 201.2,417.0 202.7,417.0C203.3,417.0 204.4,431.0 205.0,438.0C206.7,458.6 207.4,479.4 209.0,500.0C210.1,515.0 210.8,530.2 213.0,545.0C213.4,547.7 214.4,552.9 215.0,552.9C216.0,552.9 217.2,544.3 218.0,540.0C219.3,532.7 220.4,525.4 221.0,518.0C222.1,504.1 222.3,476.0 223.3,476.0C224.0,476.0 224.0,505.0 226.0,505.0C226.3,505.0 228.0,502.4 229.0,502.4C231.0,502.4 232.7,506.7 235.0,508.0C236.5,508.8 239.5,510.0 240.0,510.0C243.6,510.0 243.8,471.0 245.0,471.0C246.3,471.0 245.6,505.4 248.0,516.0C248.3,517.2 250.6,519.0 252.0,519.0C255.1,519.0 260.5,516.2 262.0,514.0C266.1,508.2 267.7,485.0 269.0,485.0C270.5,485.0 270.0,520.0 272.0,520.0C273.1,520.0 285.8,514.3 288.0,510.0C291.1,504.0 292.2,484.0 293.7,484.0C295.4,484.0 295.4,509.4 298.0,513.0C300.1,515.9 313.9,518.5 321.4,518.5C326.1,518.5 330.3,512.9 335.0,512.0C344.5,510.3 355.0,509.8 365.0,509.0C380.0,507.8 395.0,507.1 410.0,506.0C425.3,504.9 440.7,503.7 456.0,502.5" fill="none" stroke="#1f24c8" stroke-width="3.0999999999999996" stroke-linejoin="round" stroke-linecap="round" clip-path="url(#cC)"/>
<path d="M4.5,506.5C13.0,506.5 21.5,506.2 30.0,506.0C40.6,505.7 54.7,505.6 61.9,504.0C62.7,503.8 63.4,502.0 64.0,501.0C65.0,499.3 65.6,495.6 66.6,495.6C67.4,495.6 68.4,498.1 69.5,499.0C70.5,499.9 71.8,500.9 73.1,501.2C76.5,502.3 80.6,503.1 84.4,503.1C91.2,503.1 99.4,502.4 105.0,501.2C107.9,500.6 110.6,496.5 112.5,493.8C114.4,491.0 115.5,484.4 117.2,484.4C118.6,484.4 119.9,490.4 121.9,491.9C124.2,493.6 128.0,495.6 131.2,495.6C135.5,495.6 141.6,494.7 144.4,494.7C146.5,494.7 148.2,500.2 149.1,503.1C150.9,508.8 151.3,521.5 152.6,521.5C153.3,521.5 154.1,515.1 155.0,512.0C155.7,509.6 156.7,507.3 157.5,505.0C159.3,500.0 160.6,490.0 163.1,490.0C163.8,490.0 165.4,493.8 166.0,493.8C167.9,493.8 167.8,478.8 169.7,478.8C170.6,478.8 172.5,484.4 174.4,484.4C175.8,484.4 178.3,483.5 179.6,483.5C180.4,483.5 181.3,485.1 181.5,486.0C182.4,489.9 182.6,494.9 182.8,499.4C184.5,538.3 183.5,616.4 185.4,616.4C185.6,616.4 187.0,608.8 187.0,605.0C187.2,591.7 187.1,578.3 187.2,565.0C187.4,546.6 191.0,528.3 193.4,510.0C195.1,497.3 198.0,484.7 199.2,472.0C200.9,453.4 201.1,416.0 202.7,416.0C203.3,416.0 204.4,428.7 205.0,435.0C206.8,454.9 207.4,475.0 209.0,495.0C210.1,509.3 210.9,523.9 213.0,538.0C213.4,540.8 214.3,546.3 215.0,546.3C216.0,546.3 217.2,538.8 218.0,535.0C219.2,529.4 220.5,523.7 221.0,518.0C222.3,503.8 222.4,475.2 223.3,475.2C224.1,475.2 223.9,501.8 226.0,512.8C226.1,513.5 226.9,514.8 227.4,514.8C230.6,514.8 239.3,512.3 240.6,509.8C242.0,507.3 242.5,500.5 243.0,495.8C243.9,487.6 244.4,471.1 245.0,471.1C245.9,471.1 246.1,494.4 247.5,505.8C248.0,509.9 248.9,518.1 250.5,518.1C252.1,518.1 260.1,515.4 262.0,513.1C264.0,510.7 265.0,505.0 266.0,500.8C267.3,495.4 268.2,484.2 269.0,484.2C270.0,484.2 270.6,498.6 271.5,505.8C272.1,510.5 272.4,519.8 273.6,519.8C275.1,519.8 286.0,514.1 288.4,509.8C289.6,507.5 290.4,503.8 291.0,500.8C292.2,495.1 292.9,483.4 293.7,483.4C294.5,483.4 295.0,495.1 296.0,500.8C296.7,504.7 297.4,510.7 299.0,512.3C300.3,513.6 305.0,514.1 308.0,514.8C312.5,515.8 317.2,517.5 321.5,517.5C326.2,517.5 330.3,511.7 335.0,510.8C344.4,509.0 355.0,508.4 365.0,507.7C380.0,506.7 395.0,506.3 410.0,505.5C425.3,504.6 440.7,503.6 456.0,502.5" fill="none" stroke="#e22ee6" stroke-width="2.7" stroke-linejoin="round" stroke-linecap="round" clip-path="url(#cC)"/>
<path d="M4.5,506.5C13.0,506.5 21.5,506.2 30.0,506.0C40.6,505.7 54.7,505.6 61.9,504.0C62.7,503.8 63.4,502.0 64.0,501.0C65.0,499.3 65.6,495.6 66.6,495.6C67.4,495.6 68.4,498.1 69.5,499.0C70.5,499.9 71.8,500.9 73.1,501.2C76.5,502.3 80.6,503.1 84.4,503.1C91.2,503.1 99.4,502.4 105.0,501.2C107.9,500.6 110.6,496.5 112.5,493.8C114.4,491.0 115.5,484.4 117.2,484.4C118.6,484.4 119.9,490.4 121.9,491.9C124.2,493.6 128.0,495.6 131.2,495.6C135.5,495.6 141.6,494.7 144.4,494.7C146.5,494.7 148.2,500.2 149.1,503.1C150.9,508.8 151.3,521.5 152.6,521.5C153.3,521.5 154.1,515.1 155.0,512.0C155.7,509.6 156.7,507.3 157.5,505.0C159.3,500.0 160.6,490.0 163.1,490.0C163.8,490.0 165.4,493.8 166.0,493.8C167.9,493.8 167.8,478.8 169.7,478.8C170.6,478.8 172.5,484.4 174.4,484.4C175.8,484.4 178.3,483.5 179.6,483.5C180.4,483.5 181.3,485.1 181.5,486.0C182.4,489.9 182.6,494.9 182.8,499.4C184.5,538.3 183.5,616.4 185.4,616.4C185.6,616.4 187.0,608.8 187.0,605.0C187.2,591.7 187.1,578.3 187.2,565.0C187.4,546.6 191.0,528.3 193.4,510.0C195.1,497.3 198.0,484.7 199.2,472.0C200.9,453.4 201.1,416.0 202.7,416.0C203.3,416.0 204.4,428.7 205.0,435.0C206.8,454.9 207.4,475.0 209.0,495.0C210.1,509.3 210.9,523.9 213.0,538.0C213.4,540.8 214.3,546.3 215.0,546.3C216.0,546.3 217.2,538.8 218.0,535.0C219.2,529.4 220.5,523.7 221.0,518.0C222.3,503.8 222.4,475.2 223.3,475.2C224.1,475.2 223.9,501.2 226.0,512.0C226.1,512.7 226.9,514.0 227.4,514.0C230.6,514.0 239.3,511.5 240.6,509.0C242.0,506.5 242.5,499.7 243.0,495.0C243.9,486.8 244.4,470.3 245.0,470.3C245.9,470.3 246.1,493.6 247.5,505.0C248.0,509.1 248.9,517.3 250.5,517.3C252.1,517.3 260.1,514.6 262.0,512.3C264.0,509.9 265.0,504.2 266.0,500.0C267.3,494.6 268.2,483.4 269.0,483.4C270.0,483.4 270.6,497.8 271.5,505.0C272.1,509.7 272.4,519.0 273.6,519.0C275.1,519.0 286.0,513.3 288.4,509.0C289.6,506.7 290.4,503.0 291.0,500.0C292.2,494.3 292.9,482.6 293.7,482.6C294.5,482.6 295.0,494.3 296.0,500.0C296.7,503.9 297.4,509.9 299.0,511.5C300.3,512.8 305.0,513.3 308.0,514.0C312.5,515.0 317.2,516.7 321.5,516.7C326.2,516.7 330.3,510.7 335.0,510.0C344.4,508.6 355.0,508.3 365.0,507.7C380.0,506.8 395.0,506.3 410.0,505.5C425.3,504.6 440.7,503.6 456.0,502.5" fill="none" stroke="#141414" stroke-width="3.0999999999999996" stroke-linejoin="round" stroke-linecap="round" clip-path="url(#cC)"/>
<path d="M537.0,375.0C537.8,373.0 538.5,371.0 539.3,369.0C544.1,356.5 547.8,343.2 553.8,331.4C557.7,323.7 562.4,314.9 568.4,309.5C572.3,306.0 577.8,302.2 583.0,301.0C588.3,299.7 594.3,298.6 600.0,298.6C607.2,298.6 614.5,299.8 621.8,299.8C622.9,299.8 623.9,299.8 625.0,299.8C633.3,299.8 641.1,305.9 649.3,305.9C657.3,305.9 665.4,303.4 673.5,303.4C680.8,303.4 688.1,303.4 695.4,303.4C700.3,303.4 705.3,302.2 710.0,302.2C714.2,302.2 718.3,305.1 722.1,307.1C726.4,309.3 730.2,312.7 734.2,315.6C740.0,319.9 745.3,324.8 751.2,328.9C757.5,333.3 764.1,337.4 771.0,341.1" fill="none" stroke="#e2272b" stroke-width="2.7" stroke-linejoin="round" stroke-linecap="round" clip-path="url(#cD)"/>
<path d="M528.0,375.0C528.7,373.0 529.4,371.0 530.0,369.0C534.8,351.9 536.6,333.7 541.7,316.8C544.2,308.5 547.2,299.8 551.4,292.5C555.0,286.3 560.5,280.2 566.0,275.5C571.0,271.3 577.0,267.4 583.0,264.6C588.4,262.1 594.2,258.5 600.0,258.5C605.5,258.5 611.8,259.6 617.0,261.0C619.8,261.7 622.6,264.0 625.0,265.8C630.4,269.8 635.1,275.3 639.6,280.4C645.7,287.3 650.2,295.8 656.6,302.2C660.2,305.8 664.6,308.9 668.7,312.0C672.6,314.9 676.5,320.4 680.8,320.4C685.3,320.4 690.5,317.2 695.4,315.6C700.3,314.0 705.1,310.7 710.0,310.7C715.5,310.7 721.3,312.9 726.9,314.4C731.8,315.7 736.5,319.2 741.5,319.2C746.2,319.2 751.4,319.2 756.1,319.2C761.3,319.2 766.2,316.2 771.0,313.2" fill="none" stroke="#de8a2c" stroke-width="2.7" stroke-linejoin="round" stroke-linecap="round" clip-path="url(#cD)"/>
<path d="M527.0,375.0C527.7,373.0 528.4,371.0 529.0,369.0C534.1,351.6 537.7,333.7 541.7,316.0C544.2,305.0 545.2,292.7 549.0,282.8C551.0,277.5 555.9,268.3 559.9,268.3C563.2,268.3 566.8,275.7 570.8,278.0C574.4,280.1 578.8,282.8 583.0,282.8C593.1,282.8 604.1,280.4 614.5,280.4C618.0,280.4 621.7,281.7 625.0,282.8C632.0,285.1 638.1,290.8 644.4,295.0C650.2,298.9 655.2,305.7 661.4,307.1C667.2,308.4 675.0,309.5 680.8,309.5C687.0,309.5 692.5,301.8 697.8,297.4C703.4,292.7 708.3,281.6 713.6,281.6C716.4,281.6 720.0,286.9 722.1,290.1C726.3,296.4 727.2,307.6 731.8,312.0C734.6,314.7 740.4,317.2 745.0,318.0C753.2,319.4 761.9,320.4 771.0,320.4" fill="none" stroke="#3fe03f" stroke-width="2.9000000000000004" stroke-linejoin="round" stroke-linecap="round" clip-path="url(#cD)"/>
<path d="M526.0,375.0C526.7,373.0 527.4,371.0 528.0,369.0C530.8,359.5 533.0,349.7 535.0,340.0C537.6,327.5 539.2,314.7 541.7,302.2C544.2,290.0 545.9,276.8 550.2,265.8C551.7,261.9 555.1,254.9 557.5,254.9C559.0,254.9 560.7,259.5 562.0,262.0C564.6,267.1 565.7,273.2 568.4,278.0C571.6,283.8 576.3,293.7 581.7,293.7C585.3,293.7 590.6,290.6 595.1,290.1C601.5,289.4 608.2,288.9 614.5,288.9C618.1,288.9 621.4,292.0 625.0,292.5C629.7,293.2 635.1,293.1 639.6,293.7C647.5,294.8 653.6,306.3 661.4,307.1C668.9,307.8 680.0,308.3 685.7,308.3C690.9,308.3 694.4,296.4 697.8,290.1C701.5,283.2 703.0,274.0 707.5,268.3C709.1,266.2 712.4,262.9 714.3,262.9C717.5,262.9 720.1,271.1 722.1,275.5C726.3,284.6 727.1,296.5 731.8,304.7C733.9,308.3 737.8,313.7 741.5,314.4C749.5,316.0 759.2,316.8 771.0,316.8" fill="none" stroke="#1f24c8" stroke-width="2.9000000000000004" stroke-linejoin="round" stroke-linecap="round" clip-path="url(#cD)"/>
<path d="M525.5,375.0C526.2,373.0 526.9,371.0 527.5,369.0C531.0,356.7 533.4,344.0 536.0,331.4C539.4,315.3 542.5,299.0 545.5,282.8C547.9,269.9 548.5,255.6 552.5,244.0C553.2,241.9 555.3,238.0 556.5,238.0C558.1,238.0 560.0,243.5 561.0,246.4C565.3,259.3 565.9,274.2 569.4,287.7C571.3,295.1 573.1,303.4 576.5,309.5C578.4,312.9 582.0,318.5 585.4,318.5C589.4,318.5 595.1,316.8 600.0,316.0C611.3,314.2 622.6,312.7 633.9,311.0C644.7,309.4 656.4,308.7 666.3,306.0C673.2,304.1 680.8,299.0 685.7,294.0C689.7,289.9 693.0,283.6 695.4,278.0C700.0,267.4 701.6,254.9 706.0,244.0C708.0,239.0 711.2,229.4 713.6,229.4C715.5,229.4 717.8,237.0 719.0,241.0C722.9,254.0 723.8,268.5 727.0,282.0C729.2,291.4 731.0,302.2 735.0,310.0C737.0,313.8 741.2,319.1 745.0,320.0C752.1,321.6 760.7,322.5 771.0,322.5" fill="none" stroke="#e22ee6" stroke-width="3.3" stroke-linejoin="round" stroke-linecap="round" clip-path="url(#cD)"/>
<path d="M524.0,375.0C524.7,373.0 525.4,371.0 526.0,369.0C529.5,356.7 531.7,344.0 534.4,331.4C537.8,315.2 541.0,299.0 544.1,282.8C546.6,269.9 547.1,255.3 551.4,244.0C552.1,242.1 554.3,238.6 555.5,238.6C557.1,238.6 559.0,243.7 559.9,246.4C564.3,259.2 564.9,274.2 568.4,287.7C570.3,295.1 572.2,303.4 575.7,309.5C577.8,313.2 581.6,319.2 585.4,319.2C589.5,319.2 595.1,317.6 600.0,316.8C606.5,315.7 612.9,314.0 619.4,313.2C624.2,312.6 629.1,312.4 633.9,311.9C639.1,311.3 644.2,310.3 649.3,309.5C655.0,308.7 661.0,308.3 666.3,307.1C673.2,305.5 680.9,300.9 685.7,296.2C689.7,292.3 693.1,285.9 695.4,280.4C699.8,269.8 701.4,257.6 705.1,246.4C706.7,241.6 708.3,232.3 710.4,232.3C711.9,232.3 714.9,238.3 716.0,241.6C720.5,254.2 721.2,269.2 724.5,282.8C726.9,292.6 728.6,304.2 733.0,312.0C735.1,315.7 739.8,320.3 743.9,321.7C747.4,322.9 752.0,324.1 756.1,324.1C761.0,324.1 766.0,324.1 771.0,324.1" fill="none" stroke="#141414" stroke-width="2.9000000000000004" stroke-linejoin="round" stroke-linecap="round" clip-path="url(#cD)"/>
<path d="M501.0,554.5C508.4,553.6 515.6,551.7 522.6,549.6C528.5,547.8 534.7,545.3 539.8,542.2C544.3,539.4 547.6,534.0 552.1,531.1C555.8,528.7 560.1,526.3 564.4,525.0C569.1,523.6 574.2,523.1 579.1,522.0C584.9,520.7 590.9,519.5 596.4,517.6C600.6,516.1 605.1,514.0 608.6,511.5C613.3,508.1 617.4,502.8 621.0,498.0C625.6,491.9 629.7,485.1 633.2,478.3C636.0,472.8 637.3,465.7 640.6,461.0C643.2,457.4 647.8,451.7 652.0,451.7C655.7,451.7 660.9,453.4 664.3,454.9C670.2,457.5 675.4,465.0 679.1,470.9C685.5,481.0 687.6,495.0 693.8,505.3C697.0,510.6 701.2,520.1 706.1,520.1C709.5,520.1 715.5,517.3 718.4,515.1C724.0,510.8 726.8,500.5 730.7,493.0C733.3,488.0 735.6,477.8 738.1,477.8C740.6,477.8 744.2,487.7 745.5,493.0C748.1,503.1 749.1,514.3 750.4,525.0C751.9,537.3 753.0,549.6 754.1,561.9C755.0,572.5 755.3,583.2 756.5,593.8C756.7,595.9 757.1,597.9 757.5,600.0" fill="none" stroke="#e2272b" stroke-width="2.7" stroke-linejoin="round" stroke-linecap="round" clip-path="url(#cE)"/>
<path d="M501.0,558.0C512.9,558.0 524.1,557.1 534.9,555.7C541.7,554.8 547.8,548.7 554.6,547.1C562.4,545.3 570.9,544.7 579.1,543.4C586.5,542.2 594.4,541.5 601.3,539.7C608.3,537.9 615.3,533.2 621.0,528.7C625.6,525.1 629.4,519.8 633.2,515.1C635.8,511.9 637.5,506.6 640.6,505.3C642.0,504.7 644.2,504.1 645.9,504.1C649.8,504.1 653.9,507.7 657.0,510.2C663.9,515.6 667.2,532.4 674.2,532.4C678.2,532.4 685.7,526.2 688.9,526.2C693.5,526.2 695.8,540.0 698.8,547.1C701.5,553.5 702.8,561.0 706.1,566.8C707.9,569.9 711.5,575.4 713.5,575.4C717.6,575.4 721.0,561.7 723.4,554.5C727.8,541.1 729.5,526.5 733.2,512.7C735.4,504.4 738.1,488.1 740.6,488.1C743.1,488.1 746.7,504.4 748.0,512.7C750.1,526.5 750.7,540.9 752.0,555.0C753.2,567.9 754.0,580.9 755.3,593.8C755.5,595.9 755.8,597.9 756.0,600.0" fill="none" stroke="#de8a2c" stroke-width="2.7" stroke-linejoin="round" stroke-linecap="round" clip-path="url(#cE)"/>
<path d="M501.0,558.0C515.4,558.0 528.2,557.4 540.0,556.0C545.0,555.4 549.0,547.0 554.1,547.0C557.8,547.0 562.0,548.0 566.0,548.0C570.4,548.0 574.7,547.5 579.1,547.1C586.5,546.5 594.1,545.9 601.3,544.6C608.1,543.4 615.1,540.5 621.0,537.3C626.4,534.4 631.0,529.3 635.7,525.0C638.8,522.2 641.5,516.4 644.7,516.4C650.0,516.4 656.1,523.8 661.9,527.4C666.0,529.9 669.8,534.8 674.2,534.8C679.5,534.8 687.5,534.8 691.4,534.8C696.7,534.8 699.4,548.1 703.0,555.0C705.0,558.9 706.1,566.8 708.6,566.8C710.3,566.8 714.3,563.9 716.0,562.0C722.1,555.0 724.0,542.2 728.3,532.4C733.0,521.6 738.7,500.4 743.0,500.4C745.6,500.4 748.7,513.3 750.0,520.0C752.6,532.9 753.7,546.6 755.0,560.0C756.1,571.2 757.3,582.5 757.8,593.8C757.9,595.9 757.9,597.9 758.0,600.0" fill="none" stroke="#3fe03f" stroke-width="3.0999999999999996" stroke-linejoin="round" stroke-linecap="round" clip-path="url(#cE)"/>
<path d="M501.0,559.0C518.4,559.0 532.4,558.5 544.0,557.0C547.8,556.5 550.3,547.1 554.1,547.1C556.5,547.1 559.2,550.7 562.0,551.0C567.4,551.6 573.4,552.0 579.1,552.0C588.9,552.0 598.8,552.0 608.6,552.0C616.0,552.0 625.7,550.4 630.8,548.3C635.0,546.5 638.3,538.1 640.6,532.4C641.2,530.8 641.5,527.4 642.2,527.4C644.5,527.4 649.8,537.2 654.5,539.7C658.7,541.9 664.2,544.6 669.3,544.6C677.2,544.6 687.8,544.6 693.8,544.6C695.8,544.6 697.6,548.7 698.8,551.0C702.1,557.2 702.7,571.7 706.1,571.7C708.3,571.7 712.7,565.2 716.0,561.9C720.1,557.8 726.0,554.3 728.3,549.6C732.0,542.1 731.9,530.3 735.6,522.5C737.3,518.9 742.1,512.7 744.3,512.7C746.9,512.7 749.2,522.1 750.4,527.0C752.7,536.6 753.7,547.0 755.0,557.0C756.6,569.2 757.9,581.5 759.0,593.8C759.2,595.9 759.3,597.9 759.5,600.0" fill="none" stroke="#1f24c8" stroke-width="2.9000000000000004" stroke-linejoin="round" stroke-linecap="round" clip-path="url(#cE)"/>
<path d="M501.0,559.0C519.2,559.0 533.4,558.6 544.7,557.5C548.3,557.1 550.6,547.0 554.1,547.0C557.8,547.0 562.3,554.6 566.8,555.0C575.8,555.7 586.5,556.0 596.4,556.0C606.2,556.0 618.8,555.7 625.9,555.0C631.8,554.5 634.3,535.0 640.0,535.0C643.3,535.0 647.8,541.1 652.0,542.0C664.8,544.8 687.1,543.7 693.8,546.5C698.9,548.6 700.7,577.0 704.2,577.0C706.5,577.0 708.1,563.2 711.1,557.0C714.0,550.9 719.4,540.0 723.4,540.0C725.5,540.0 728.1,549.0 729.5,549.0C732.4,549.0 732.5,527.0 735.6,527.0C736.7,527.0 738.6,533.0 740.6,533.0C743.5,533.0 750.5,532.0 752.0,532.0C754.2,532.0 755.3,542.6 756.0,548.0C757.9,563.0 758.3,578.5 759.5,593.8C759.7,595.9 759.8,597.9 760.0,600.0" fill="none" stroke="#e22ee6" stroke-width="2.7" stroke-linejoin="round" stroke-linecap="round" clip-path="url(#cE)"/>
<path d="M501.0,558.2C519.4,558.2 533.7,557.9 544.7,557.0C548.4,556.7 550.6,545.9 554.1,545.9C557.8,545.9 562.2,554.1 566.8,554.5C575.7,555.3 586.5,555.7 596.4,555.7C606.2,555.7 617.3,555.4 625.9,554.5C629.5,554.1 633.6,550.1 635.7,547.1C638.7,542.9 639.3,531.1 642.2,531.1C644.5,531.1 648.3,539.1 652.0,541.0C656.8,543.4 663.4,545.9 669.3,545.9C677.3,545.9 688.6,545.9 693.8,545.9C695.9,545.9 697.7,551.5 698.8,554.5C701.4,561.7 702.1,577.8 704.2,577.8C706.1,577.8 708.2,563.5 711.1,557.0C714.1,550.4 719.6,538.5 723.4,538.5C725.6,538.5 728.1,549.6 729.5,549.6C732.3,549.6 732.6,525.0 735.6,525.0C736.7,525.0 738.5,532.4 740.6,532.4C742.9,532.4 748.7,531.1 750.4,531.1C752.9,531.1 754.6,540.0 755.3,544.6C757.6,560.4 757.7,577.4 759.0,593.8C759.2,595.9 759.3,597.9 759.5,600.0" fill="none" stroke="#141414" stroke-width="2.9000000000000004" stroke-linejoin="round" stroke-linecap="round" clip-path="url(#cE)"/>
<path d="M766.0,600.0 L768.8,591.0 L772.5,571.7" fill="none" stroke="#141414" stroke-width="2.9000000000000004" stroke-linejoin="round" stroke-linecap="round" clip-path="url(#cE)"/>
<path d="M809.5,145.0C812.6,144.3 815.6,143.4 818.5,142.3C822.5,140.8 826.5,139.0 830.2,136.9C833.3,135.1 836.7,133.1 839.2,130.6C841.7,128.1 843.6,124.7 845.5,121.6C847.8,117.8 849.1,112.9 851.8,109.9C853.6,107.9 856.4,106.0 859.0,105.0C861.8,103.9 865.1,103.7 868.0,102.7C870.4,101.8 873.2,100.6 875.0,99.0C878.0,96.4 879.9,91.8 882.0,88.0C884.9,82.8 888.0,77.5 890.0,72.0C895.4,56.7 895.4,36.7 902.0,24.0C903.9,20.4 909.2,14.4 912.4,14.4C916.2,14.4 920.5,22.4 923.0,27.0C927.0,34.1 929.5,42.9 932.0,51.0C936.9,67.1 937.1,100.4 944.0,100.4C945.6,100.4 951.5,95.9 953.0,93.0C957.2,84.6 957.6,70.9 960.4,60.0C961.6,55.5 962.8,46.5 964.3,46.5C965.8,46.5 968.7,55.4 969.4,60.0C972.2,77.3 973.2,96.0 974.0,114.0C975.6,149.3 975.6,184.7 977.0,220.0C977.7,238.3 978.6,275.0 980.0,275.0C980.5,275.0 981.6,261.7 982.0,255.0C983.6,230.1 983.7,205.0 985.0,180.0C986.2,156.6 988.3,133.3 990.0,110.0C991.3,91.7 992.6,73.3 994.0,55.0C995.1,40.0 996.5,10.0 997.5,10.0C999.3,10.0 1000.5,63.3 1002.0,90.0C1003.6,118.3 1005.2,146.7 1006.8,175.0C1007.9,195.0 1008.2,215.2 1010.0,235.0C1010.5,240.0 1011.6,250.0 1012.6,250.0C1013.3,250.0 1014.6,243.4 1015.0,240.0C1016.8,223.6 1016.7,206.6 1018.0,190.0C1018.8,180.0 1019.4,169.8 1021.0,160.0C1021.7,155.9 1022.7,150.0 1024.8,148.0C1025.5,147.3 1027.8,146.4 1029.0,146.4C1032.2,146.4 1034.4,152.1 1037.0,155.0C1041.1,159.6 1045.8,164.0 1049.0,169.0C1053.4,175.9 1055.5,191.8 1060.0,191.8C1062.5,191.8 1066.2,181.0 1069.3,181.0C1074.2,181.0 1079.0,198.6 1084.0,198.6C1088.4,198.6 1094.2,183.7 1097.6,183.7C1102.2,183.7 1104.9,200.8 1108.4,209.4C1113.9,222.8 1117.1,249.8 1124.6,249.8C1128.2,249.8 1135.2,240.9 1140.0,236.0C1150.9,224.9 1159.2,211.2 1170.0,200.0C1179.3,190.4 1188.7,178.3 1200.0,173.0C1208.8,168.9 1220.1,167.2 1230.0,164.0C1240.4,160.7 1250.7,157.2 1261.0,153.5" fill="none" stroke="#e2272b" stroke-width="2.7" stroke-linejoin="round" stroke-linecap="round" clip-path="url(#cF)"/>
<path d="M809.0,148.0C815.3,147.6 821.5,146.4 827.5,145.0C833.7,143.6 840.1,141.0 845.5,138.0C848.8,136.2 851.2,131.3 854.5,130.6C859.7,129.5 866.9,129.8 872.4,128.8C877.3,127.9 882.2,124.0 886.0,120.7C889.5,117.6 892.7,113.2 895.0,109.0C899.9,100.1 902.0,79.5 906.4,79.5C909.5,79.5 913.5,92.5 917.0,99.0C920.0,104.5 922.1,115.4 926.0,115.4C928.3,115.4 933.8,109.4 935.0,109.4C938.7,109.4 938.6,130.6 941.0,141.0C943.0,150.1 946.2,168.0 948.4,168.0C952.3,168.0 956.7,136.1 959.0,120.0C961.8,100.2 962.4,60.0 965.0,60.0C966.3,60.0 968.8,80.0 970.0,90.0C972.3,109.9 974.0,130.0 975.0,150.0C976.5,180.0 976.8,210.0 978.0,240.0C978.5,253.3 979.2,280.0 980.0,280.0C980.5,280.0 981.5,263.3 982.0,255.0C983.4,230.0 983.7,205.0 985.0,180.0C986.2,156.6 988.3,133.3 990.0,110.0C991.3,91.7 992.7,73.3 994.0,55.0C995.2,39.3 996.5,8.0 997.5,8.0C999.3,8.0 1000.5,62.7 1002.0,90.0C1003.6,118.3 1005.3,146.7 1006.8,175.0C1007.9,196.7 1008.2,218.5 1010.0,240.0C1010.5,245.6 1011.8,256.6 1012.6,256.6C1013.4,256.6 1014.5,245.6 1015.0,240.0C1016.6,220.1 1016.8,200.0 1018.0,180.0C1019.1,161.7 1019.0,139.5 1022.0,125.0C1022.6,122.2 1028.3,117.6 1029.6,117.6C1033.7,117.6 1034.9,150.0 1037.0,150.0C1039.9,150.0 1043.1,105.0 1044.5,105.0C1046.2,105.0 1045.4,144.7 1048.0,160.0C1048.5,162.9 1052.2,168.0 1055.0,168.0C1057.9,168.0 1065.2,168.0 1066.0,168.0C1069.2,168.0 1069.1,125.0 1070.4,125.0C1071.7,125.0 1071.5,170.0 1074.0,170.0C1075.0,170.0 1090.4,170.0 1092.0,170.0C1096.0,170.0 1096.5,125.0 1098.0,125.0C1099.7,125.0 1099.0,164.2 1102.0,175.0C1102.6,177.0 1107.2,178.8 1110.0,180.0C1115.6,182.3 1122.1,185.0 1128.0,185.0C1137.2,185.0 1146.0,177.9 1155.0,174.5C1169.9,168.8 1184.6,161.3 1200.0,158.0C1219.8,153.7 1240.1,149.7 1261.0,149.0" fill="none" stroke="#f0ae70" stroke-width="2.7" stroke-linejoin="round" stroke-linecap="round" clip-path="url(#cF)"/>
<path d="M809.0,148.0C815.3,147.4 821.4,146.3 827.5,145.0C833.6,143.7 840.7,142.3 845.5,139.6C847.9,138.2 849.3,132.4 851.8,132.4C856.0,132.4 862.7,134.2 868.0,134.2C874.1,134.2 881.6,132.0 886.0,129.7C891.8,126.7 895.7,116.2 899.4,109.0C901.7,104.4 903.3,94.5 905.5,94.5C908.9,94.5 911.7,113.0 917.0,115.4C920.4,117.0 928.8,116.7 932.0,118.4C934.7,119.8 936.7,126.0 938.0,130.0C940.9,139.1 941.2,159.0 944.0,159.0C946.5,159.0 953.9,143.4 956.0,135.0C959.1,122.4 959.5,108.2 962.0,95.0C963.2,88.9 965.1,76.8 966.4,76.8C968.1,76.8 970.1,92.2 971.0,100.0C973.0,116.5 974.2,133.3 975.0,150.0C976.5,183.3 976.7,216.7 978.0,250.0C978.5,263.3 979.2,290.0 980.0,290.0C980.6,290.0 981.5,270.0 982.0,260.0C983.3,233.4 983.7,206.6 985.0,180.0C986.2,156.6 988.3,133.3 990.0,110.0C991.3,91.7 992.7,73.3 994.0,55.0C995.2,39.3 996.5,8.0 997.5,8.0C999.3,8.0 1000.4,62.7 1002.0,90.0C1003.5,116.7 1005.3,143.3 1006.8,170.0C1007.9,189.3 1008.1,208.9 1010.0,228.0C1010.4,232.6 1011.8,241.7 1012.6,241.7C1013.5,241.7 1014.5,230.6 1015.0,225.0C1016.5,208.4 1016.9,191.7 1018.0,175.0C1018.9,160.0 1018.7,130.0 1021.0,130.0C1021.5,130.0 1027.2,132.3 1029.0,134.0C1032.7,137.4 1035.6,150.0 1037.0,150.0C1041.1,150.0 1043.0,100.0 1044.5,100.0C1046.1,100.0 1045.6,137.5 1048.0,155.0C1048.5,158.4 1050.1,165.0 1052.0,165.0C1054.5,165.0 1065.1,165.0 1066.0,165.0C1069.2,165.0 1069.0,118.0 1070.4,118.0C1071.7,118.0 1071.5,163.0 1074.0,163.0C1075.0,163.0 1090.4,163.0 1092.0,163.0C1096.0,163.0 1096.3,118.0 1098.0,118.0C1099.5,118.0 1099.4,147.4 1102.0,160.0C1102.9,164.3 1106.7,169.9 1110.0,172.0C1114.4,174.8 1122.1,177.5 1128.0,177.5C1137.2,177.5 1145.7,168.4 1155.0,165.5C1169.5,160.9 1184.9,157.4 1200.0,155.0C1220.1,151.8 1240.4,149.0 1261.0,148.0" fill="none" stroke="#3fe03f" stroke-width="2.9000000000000004" stroke-linejoin="round" stroke-linecap="round" clip-path="url(#cF)"/>
<path d="M809.0,148.6C815.2,150.2 821.4,150.4 827.5,150.4C833.6,150.4 842.3,148.5 845.5,146.0C847.4,144.6 847.6,136.0 849.5,136.0C850.6,136.0 853.1,139.0 855.0,139.0C857.7,139.0 860.7,137.8 863.5,137.8C869.4,137.8 875.7,138.7 881.4,138.7C886.1,138.7 891.7,135.2 894.9,132.4C898.0,129.7 900.2,124.3 902.0,120.0C903.4,116.6 904.0,109.4 905.5,109.4C908.1,109.4 912.1,123.9 917.0,126.0C920.7,127.6 928.8,127.3 932.0,129.0C934.7,130.4 936.6,136.2 938.0,140.0C940.7,147.4 941.4,163.4 944.0,163.4C946.8,163.4 953.9,148.9 956.0,141.0C959.1,129.7 959.2,116.7 962.0,105.0C963.2,99.9 965.9,90.0 967.3,90.0C969.2,90.0 971.2,103.3 972.0,110.0C973.6,123.2 974.4,136.7 975.0,150.0C976.6,186.6 976.6,223.4 978.0,260.0C978.5,273.3 979.3,300.0 980.0,300.0C980.7,300.0 981.4,273.3 982.0,260.0C983.2,233.3 983.7,206.6 985.0,180.0C986.2,156.6 988.3,133.3 990.0,110.0C991.3,91.7 992.7,73.3 994.0,55.0C995.2,39.3 996.5,8.0 997.5,8.0C999.3,8.0 1000.4,62.7 1002.0,90.0C1003.5,115.0 1005.2,140.0 1006.8,165.0C1007.9,181.7 1008.5,198.4 1010.0,215.0C1010.6,221.2 1011.8,233.6 1012.6,233.6C1013.4,233.6 1014.4,221.2 1015.0,215.0C1016.4,200.1 1017.1,185.0 1018.0,170.0C1019.0,153.3 1019.4,120.0 1020.7,120.0C1021.2,120.0 1021.4,137.5 1023.0,140.0C1023.5,140.8 1027.3,140.8 1029.0,141.6C1032.2,143.0 1035.9,150.0 1037.0,150.0C1041.8,150.0 1042.9,100.0 1044.5,100.0C1046.1,100.0 1046.0,133.6 1048.0,150.0C1048.6,155.1 1049.9,165.0 1052.0,165.0C1053.9,165.0 1065.1,164.0 1066.0,163.0C1069.1,159.6 1069.0,116.0 1070.4,116.0C1071.7,116.0 1071.5,158.6 1074.0,160.0C1075.0,160.6 1090.4,161.0 1092.0,161.0C1096.0,161.0 1096.1,116.0 1098.0,116.0C1099.4,116.0 1099.5,140.2 1102.0,150.0C1102.9,153.7 1106.9,157.6 1110.0,160.0C1114.8,163.7 1122.0,168.5 1128.0,168.5C1134.0,168.5 1139.7,161.0 1146.0,159.5C1153.6,157.7 1162.0,157.2 1170.0,156.0C1180.0,154.4 1189.9,152.0 1200.0,151.0C1209.9,150.1 1220.0,149.6 1230.0,149.0C1240.3,148.4 1250.7,147.9 1261.0,147.5" fill="none" stroke="#1f24c8" stroke-width="2.9000000000000004" stroke-linejoin="round" stroke-linecap="round" clip-path="url(#cF)"/>
<path d="M809.0,148.6C816.7,147.9 824.3,147.3 832.0,146.8C836.5,146.5 843.3,146.5 845.5,145.9C847.5,145.4 847.6,134.2 849.5,134.2C850.7,134.2 853.2,138.2 855.4,139.6C859.1,141.9 863.6,145.0 868.0,145.0C872.3,145.0 877.1,145.0 881.4,145.0C886.1,145.0 891.6,142.1 894.9,139.6C897.9,137.4 900.7,132.7 902.1,128.8C903.4,125.2 903.6,117.0 905.0,117.0C906.7,117.0 910.3,127.7 914.0,129.0C919.2,130.8 931.4,130.2 935.0,132.0C937.4,133.2 939.1,140.5 940.0,145.0C941.8,153.7 942.1,172.0 943.5,172.0C945.2,172.0 947.3,151.1 950.0,141.0C951.6,134.9 954.3,129.0 956.2,123.0C958.2,116.7 959.2,104.0 961.8,104.0C962.8,104.0 964.3,108.5 966.0,110.0C967.3,111.2 969.9,111.7 971.0,113.0C972.4,114.7 973.7,117.6 974.0,120.0C976.2,139.0 976.2,160.0 977.0,180.0C978.0,206.7 979.1,233.3 979.5,260.0C979.7,278.0 979.7,314.0 980.0,314.0C980.1,314.0 980.7,298.0 981.0,290.0C981.4,280.0 981.7,270.0 982.0,260.0C982.9,233.3 983.7,206.6 985.0,180.0C986.2,156.6 988.3,133.3 990.0,110.0C991.3,91.7 992.7,73.3 994.0,55.0C995.2,39.0 996.5,7.0 997.5,7.0C999.2,7.0 1000.3,62.3 1002.0,90.0C1003.4,113.3 1005.1,136.7 1006.8,160.0C1007.8,173.3 1008.6,186.7 1010.0,200.0C1010.6,205.9 1011.8,217.5 1012.6,217.5C1013.4,217.5 1014.4,205.8 1015.0,200.0C1016.3,186.7 1017.2,173.3 1018.0,160.0C1019.1,139.9 1019.8,99.6 1020.7,99.6C1021.5,99.6 1021.5,133.5 1023.0,150.0C1023.3,153.5 1024.2,160.5 1025.5,160.5C1027.0,160.5 1036.2,159.5 1037.5,158.3C1039.6,156.5 1040.3,146.1 1041.0,140.0C1042.8,124.7 1043.5,93.6 1044.5,93.6C1045.5,93.6 1045.8,124.6 1047.0,140.0C1047.7,148.7 1048.0,164.1 1049.9,166.0C1051.0,167.1 1063.6,168.0 1064.7,168.0C1066.1,168.0 1066.3,156.0 1067.0,150.0C1068.3,138.0 1069.4,114.0 1070.4,114.0C1071.4,114.0 1071.8,138.1 1073.0,150.0C1073.7,156.7 1074.2,170.0 1076.0,170.0C1077.5,170.0 1090.5,166.4 1091.9,163.3C1093.8,159.0 1094.0,147.8 1095.0,140.0C1096.1,131.5 1097.1,114.5 1098.0,114.5C1099.1,114.5 1099.5,135.0 1101.0,145.0C1101.7,149.5 1102.5,155.0 1104.3,158.3C1105.2,160.0 1108.0,161.6 1110.0,162.5C1115.4,164.8 1122.4,167.0 1128.0,167.0C1134.5,167.0 1139.5,155.8 1146.0,155.0C1153.3,154.1 1162.0,154.1 1170.0,153.5C1180.0,152.7 1190.0,151.2 1200.0,150.5C1210.0,149.8 1220.0,149.5 1230.0,149.0C1240.3,148.5 1250.7,148.0 1261.0,147.5" fill="none" stroke="#141414" stroke-width="3.0999999999999996" stroke-linejoin="round" stroke-linecap="round" clip-path="url(#cF)"/>
<path d="M846.5,465.7C850.8,465.7 854.8,464.9 858.0,464.0C862.8,462.6 866.5,455.6 870.0,451.0C875.3,443.9 881.1,436.1 884.0,427.9C888.8,414.6 890.4,399.2 894.0,385.0C896.6,374.6 901.1,354.0 902.4,354.0C909.2,354.0 908.7,516.0 913.6,516.0C918.5,516.0 931.3,354.0 934.6,354.0C938.9,354.0 938.9,567.7 942.8,567.7C947.0,567.7 960.7,338.0 964.6,338.0C968.9,338.0 969.1,592.4 973.2,592.4C977.4,592.4 991.3,328.6 995.6,328.6C999.9,328.6 1000.0,593.5 1004.6,593.5C1008.5,593.5 1023.8,372.7 1028.8,372.7C1033.4,372.7 1034.0,578.0 1038.8,578.0C1043.1,578.0 1055.7,394.9 1061.4,394.9C1066.3,394.9 1067.7,551.6 1073.4,551.6C1077.9,551.6 1089.7,427.9 1095.6,427.9C1100.5,427.9 1102.3,531.8 1108.1,531.8C1112.5,531.8 1122.6,454.3 1128.8,454.3C1135.1,454.3 1137.7,533.5 1146.0,533.5C1150.1,533.5 1157.1,508.5 1165.0,498.8C1170.6,491.9 1178.2,485.8 1186.5,480.7" fill="none" stroke="#f0ae70" stroke-width="3.0999999999999996" stroke-linejoin="round" stroke-linecap="round" clip-path="url(#cG)"/>
<path d="M846.5,465.7C850.5,465.6 854.3,464.8 858.0,464.0C862.1,463.1 866.2,461.0 870.0,459.0C875.0,456.4 880.6,453.0 884.0,449.0C888.3,444.0 890.9,436.4 894.0,430.0C896.7,424.3 900.2,412.5 901.6,412.5C908.0,412.5 908.5,500.5 912.8,500.5C918.7,500.5 930.8,380.0 933.8,380.0C938.3,380.0 938.3,560.0 942.0,560.0C946.5,560.0 960.0,345.0 963.8,345.0C968.1,345.0 968.3,590.0 972.4,590.0C976.6,590.0 990.5,345.0 994.8,345.0C999.1,345.0 999.2,590.0 1003.8,590.0C1007.7,590.0 1022.9,385.0 1028.0,385.0C1032.5,385.0 1032.9,565.0 1038.0,565.0C1041.9,565.0 1053.5,426.2 1060.6,426.2C1064.8,426.2 1066.9,508.7 1072.6,508.7C1077.1,508.7 1088.5,446.0 1094.8,446.0C1099.5,446.0 1101.8,493.9 1107.3,493.9C1112.1,493.9 1121.4,455.9 1128.0,455.9C1133.9,455.9 1137.5,490.6 1145.2,490.6C1149.9,490.6 1158.0,480.9 1165.0,477.4C1171.8,474.0 1179.0,471.1 1186.5,469.1" fill="none" stroke="#141414" stroke-width="2.7" stroke-linejoin="round" stroke-linecap="round" clip-path="url(#cG)"/>
<path d="M846.5,465.7C850.5,465.7 854.4,464.8 858.0,464.0C862.2,463.0 866.2,460.3 870.0,458.0C875.0,454.9 880.8,451.3 884.0,447.0C888.5,440.9 891.1,431.8 894.0,424.0C896.9,416.2 900.2,400.0 901.6,400.0C907.9,400.0 908.4,512.0 912.8,512.0C918.4,512.0 930.6,370.0 933.8,370.0C938.2,370.0 938.2,565.0 942.0,565.0C946.4,565.0 960.0,338.0 963.8,338.0C968.1,338.0 968.3,592.0 972.4,592.0C976.6,592.0 990.5,338.0 994.8,338.0C999.1,338.0 999.2,592.0 1003.8,592.0C1007.7,592.0 1022.9,378.0 1028.0,378.0C1032.5,378.0 1033.0,570.0 1038.0,570.0C1042.0,570.0 1053.9,420.0 1060.6,420.0C1065.0,420.0 1067.0,518.0 1072.6,518.0C1077.2,518.0 1088.7,440.0 1094.8,440.0C1099.6,440.0 1101.6,503.0 1107.3,503.0C1111.9,503.0 1121.3,455.0 1128.0,455.0C1133.9,455.0 1137.4,497.0 1145.2,497.0C1149.8,497.0 1157.7,483.3 1165.0,479.0C1171.4,475.2 1178.7,472.0 1186.5,470.0" fill="none" stroke="#e22ee6" stroke-width="2.7" stroke-linejoin="round" stroke-linecap="round" clip-path="url(#cG)" stroke-dasharray="5 3" stroke-dashoffset="2"/>
<path d="M846.5,465.7C850.6,465.5 854.4,464.4 858.0,463.3C862.3,461.9 866.4,458.8 870.0,456.0C875.2,451.9 881.1,446.8 884.0,441.3C888.8,432.4 890.9,420.5 894.0,410.0C896.7,401.0 900.3,383.0 901.6,383.0C908.2,383.0 908.3,525.0 912.8,525.0C918.3,525.0 930.4,352.0 933.8,352.0C938.1,352.0 938.2,574.4 942.0,574.4C946.3,574.4 960.0,322.5 963.8,322.5C968.1,322.5 968.2,603.6 972.4,603.6C976.5,603.6 990.5,324.7 994.8,324.7C999.1,324.7 999.2,601.4 1003.8,601.4C1007.7,601.4 1022.8,367.5 1028.0,367.5C1032.5,367.5 1033.0,571.4 1038.0,571.4C1042.0,571.4 1054.2,409.7 1060.6,409.7C1065.1,409.7 1066.8,525.0 1072.6,525.0C1077.0,525.0 1088.9,441.0 1094.8,441.0C1099.8,441.0 1101.7,513.7 1107.3,513.7C1112.0,513.7 1120.9,455.0 1128.0,455.0C1133.6,455.0 1137.5,500.5 1145.2,500.5C1149.9,500.5 1157.1,481.9 1165.0,478.0C1170.9,475.1 1178.4,472.5 1186.5,472.0" fill="none" stroke="#1f24c8" stroke-width="2.9000000000000004" stroke-linejoin="round" stroke-linecap="round" clip-path="url(#cG)" stroke-dasharray="5 3" stroke-dashoffset="5"/>
<path d="M846.5,465.7C850.5,465.7 854.4,464.8 858.0,464.0C862.2,463.0 866.3,460.3 870.0,458.0C875.1,454.8 880.9,450.7 884.0,446.0C888.6,439.0 891.0,428.8 894.0,420.0C896.8,411.6 900.2,394.5 901.6,394.5C908.0,394.5 908.3,520.0 912.8,520.0C918.3,520.0 930.5,365.0 933.8,365.0C938.1,365.0 938.2,570.0 942.0,570.0C946.3,570.0 959.9,335.0 963.8,335.0C968.1,335.0 968.3,595.0 972.4,595.0C976.6,595.0 990.5,335.0 994.8,335.0C999.1,335.0 999.2,595.0 1003.8,595.0C1007.8,595.0 1023.0,372.0 1028.0,372.0C1032.6,372.0 1033.0,575.0 1038.0,575.0C1042.0,575.0 1054.2,416.3 1060.6,416.3C1065.1,416.3 1067.1,528.5 1072.6,528.5C1077.3,528.5 1088.6,434.5 1094.8,434.5C1099.6,434.5 1101.6,508.7 1107.3,508.7C1111.8,508.7 1121.6,452.6 1128.0,452.6C1134.1,452.6 1137.2,507.0 1145.2,507.0C1149.7,507.0 1157.2,488.1 1165.0,482.0C1170.9,477.4 1178.4,473.4 1186.5,470.8" fill="none" stroke="#3fe03f" stroke-width="2.9000000000000004" stroke-linejoin="round" stroke-linecap="round" clip-path="url(#cG)" stroke-dasharray="5 3"/>
<path d="M846.5,466.0C850.4,465.9 854.0,464.9 857.0,463.8C862.3,461.9 867.3,455.4 870.4,450.3C874.7,443.3 877.5,434.3 880.0,426.0C883.4,414.9 885.2,403.1 888.4,391.9C889.9,386.7 891.5,381.5 893.5,376.5C895.8,370.5 898.3,359.0 901.8,359.0C904.2,359.0 909.1,364.9 911.2,368.5C915.5,375.8 915.7,394.3 920.2,394.3C922.1,394.3 927.4,387.5 929.2,387.5C932.7,387.5 934.3,401.1 936.2,408.0C940.7,424.1 942.8,457.0 947.2,457.0C950.7,457.0 956.9,419.5 960.1,419.5C966.9,419.5 969.4,502.4 975.6,502.4C980.2,502.4 987.8,442.5 992.2,442.5C998.2,442.5 1000.7,525.1 1007.0,525.1C1011.4,525.1 1019.4,469.0 1024.4,469.0C1030.2,469.0 1033.2,535.1 1039.6,535.1C1043.8,535.1 1051.0,493.9 1056.1,493.9C1062.1,493.9 1065.3,543.4 1072.6,543.4C1076.3,543.4 1082.8,521.9 1087.5,521.9C1095.1,521.9 1099.2,558.2 1108.9,558.2C1112.5,558.2 1119.5,553.3 1123.8,553.3C1130.8,553.3 1136.3,571.4 1141.9,571.4C1150.2,571.4 1157.5,551.7 1165.0,541.7C1172.3,531.9 1179.5,522.0 1186.5,512.0" fill="none" stroke="#e2272b" stroke-width="2.9000000000000004" stroke-linejoin="round" stroke-linecap="round" clip-path="url(#cG)"/>
<line x1="934.50" y1="37.20" x2="934.50" y2="543.00" stroke="#7e7e7e" stroke-width="2.2" stroke-dasharray="10.5 5.1"/>
<line x1="965.00" y1="37.20" x2="965.00" y2="543.00" stroke="#7e7e7e" stroke-width="2.2" stroke-dasharray="10.5 5.1"/>
<line x1="1028.80" y1="44.50" x2="1028.80" y2="549.50" stroke="#7e7e7e" stroke-width="2.2" stroke-dasharray="10.5 5.1"/>
<rect x="3.00" y="9.30" width="453.00" height="202.40" fill="none" stroke="#8a8a8a" stroke-width="2.2"/>
<rect x="3.00" y="211.70" width="453.00" height="202.30" fill="none" stroke="#8a8a8a" stroke-width="2.2"/>
<rect x="4.50" y="415.50" width="451.50" height="201.30" fill="none" stroke="#8a8a8a" stroke-width="2.2"/>
<rect x="500.00" y="212.50" width="271.00" height="156.80" fill="none" stroke="#8a8a8a" stroke-width="2.2"/>
<rect x="501.00" y="436.70" width="271.50" height="157.50" fill="none" stroke="#8a8a8a" stroke-width="2.2"/>
<rect x="809.00" y="6.30" width="452.00" height="313.90" fill="none" stroke="#8a8a8a" stroke-width="2.2"/>
<rect x="809.30" y="320.20" width="451.90" height="292.30" fill="none" stroke="#8a8a8a" stroke-width="2.2"/>
<rect x="26.00" y="417.00" width="161.00" height="111.80" fill="none" stroke="#7a7a7a" stroke-width="1.8"/>
<rect x="214.50" y="463.00" width="47.50" height="62.80" fill="none" stroke="#7a7a7a" stroke-width="1.8"/>
<line x1="28.70" y1="9.30" x2="28.70" y2="13.30" stroke="#666" stroke-width="1.6" />
<line x1="80.36" y1="9.30" x2="80.36" y2="13.30" stroke="#666" stroke-width="1.6" />
<line x1="132.02" y1="9.30" x2="132.02" y2="13.30" stroke="#666" stroke-width="1.6" />
<line x1="183.68" y1="9.30" x2="183.68" y2="13.30" stroke="#666" stroke-width="1.6" />
<line x1="235.34" y1="9.30" x2="235.34" y2="13.30" stroke="#666" stroke-width="1.6" />
<line x1="287.00" y1="9.30" x2="287.00" y2="13.30" stroke="#666" stroke-width="1.6" />
<line x1="338.66" y1="9.30" x2="338.66" y2="13.30" stroke="#666" stroke-width="1.6" />
<line x1="390.32" y1="9.30" x2="390.32" y2="13.30" stroke="#666" stroke-width="1.6" />
<line x1="441.98" y1="9.30" x2="441.98" y2="13.30" stroke="#666" stroke-width="1.6" />
<line x1="28.70" y1="211.70" x2="28.70" y2="207.70" stroke="#666" stroke-width="1.6" />
<line x1="80.36" y1="211.70" x2="80.36" y2="207.70" stroke="#666" stroke-width="1.6" />
<line x1="132.02" y1="211.70" x2="132.02" y2="207.70" stroke="#666" stroke-width="1.6" />
<line x1="183.68" y1="211.70" x2="183.68" y2="207.70" stroke="#666" stroke-width="1.6" />
<line x1="235.34" y1="211.70" x2="235.34" y2="207.70" stroke="#666" stroke-width="1.6" />
<line x1="287.00" y1="211.70" x2="287.00" y2="207.70" stroke="#666" stroke-width="1.6" />
<line x1="338.66" y1="211.70" x2="338.66" y2="207.70" stroke="#666" stroke-width="1.6" />
<line x1="390.32" y1="211.70" x2="390.32" y2="207.70" stroke="#666" stroke-width="1.6" />
<line x1="441.98" y1="211.70" x2="441.98" y2="207.70" stroke="#666" stroke-width="1.6" />
<line x1="3.00" y1="53.60" x2="7.00" y2="53.60" stroke="#666" stroke-width="1.6" />
<line x1="3.00" y1="100.10" x2="7.00" y2="100.10" stroke="#666" stroke-width="1.6" />
<line x1="3.00" y1="146.60" x2="7.00" y2="146.60" stroke="#666" stroke-width="1.6" />
<line x1="3.00" y1="193.10" x2="7.00" y2="193.10" stroke="#666" stroke-width="1.6" />
<line x1="456.00" y1="53.60" x2="452.00" y2="53.60" stroke="#666" stroke-width="1.6" />
<line x1="456.00" y1="100.10" x2="452.00" y2="100.10" stroke="#666" stroke-width="1.6" />
<line x1="456.00" y1="146.60" x2="452.00" y2="146.60" stroke="#666" stroke-width="1.6" />
<line x1="456.00" y1="193.10" x2="452.00" y2="193.10" stroke="#666" stroke-width="1.6" />
<line x1="28.70" y1="211.70" x2="28.70" y2="215.70" stroke="#666" stroke-width="1.6" />
<line x1="80.36" y1="211.70" x2="80.36" y2="215.70" stroke="#666" stroke-width="1.6" />
<line x1="132.02" y1="211.70" x2="132.02" y2="215.70" stroke="#666" stroke-width="1.6" />
<line x1="183.68" y1="211.70" x2="183.68" y2="215.70" stroke="#666" stroke-width="1.6" />
<line x1="235.34" y1="211.70" x2="235.34" y2="215.70" stroke="#666" stroke-width="1.6" />
<line x1="287.00" y1="211.70" x2="287.00" y2="215.70" stroke="#666" stroke-width="1.6" />
<line x1="338.66" y1="211.70" x2="338.66" y2="215.70" stroke="#666" stroke-width="1.6" />
<line x1="390.32" y1="211.70" x2="390.32" y2="215.70" stroke="#666" stroke-width="1.6" />
<line x1="441.98" y1="211.70" x2="441.98" y2="215.70" stroke="#666" stroke-width="1.6" />
<line x1="28.70" y1="414.00" x2="28.70" y2="410.00" stroke="#666" stroke-width="1.6" />
<line x1="80.36" y1="414.00" x2="80.36" y2="410.00" stroke="#666" stroke-width="1.6" />
<line x1="132.02" y1="414.00" x2="132.02" y2="410.00" stroke="#666" stroke-width="1.6" />
<line x1="183.68" y1="414.00" x2="183.68" y2="410.00" stroke="#666" stroke-width="1.6" />
<line x1="235.34" y1="414.00" x2="235.34" y2="410.00" stroke="#666" stroke-width="1.6" />
<line x1="287.00" y1="414.00" x2="287.00" y2="410.00" stroke="#666" stroke-width="1.6" />
<line x1="338.66" y1="414.00" x2="338.66" y2="410.00" stroke="#666" stroke-width="1.6" />
<line x1="390.32" y1="414.00" x2="390.32" y2="410.00" stroke="#666" stroke-width="1.6" />
<line x1="441.98" y1="414.00" x2="441.98" y2="410.00" stroke="#666" stroke-width="1.6" />
<line x1="3.00" y1="256.60" x2="7.00" y2="256.60" stroke="#666" stroke-width="1.6" />
<line x1="3.00" y1="302.90" x2="7.00" y2="302.90" stroke="#666" stroke-width="1.6" />
<line x1="3.00" y1="349.20" x2="7.00" y2="349.20" stroke="#666" stroke-width="1.6" />
<line x1="3.00" y1="395.40" x2="7.00" y2="395.40" stroke="#666" stroke-width="1.6" />
<line x1="456.00" y1="256.60" x2="452.00" y2="256.60" stroke="#666" stroke-width="1.6" />
<line x1="456.00" y1="302.90" x2="452.00" y2="302.90" stroke="#666" stroke-width="1.6" />
<line x1="456.00" y1="349.20" x2="452.00" y2="349.20" stroke="#666" stroke-width="1.6" />
<line x1="456.00" y1="395.40" x2="452.00" y2="395.40" stroke="#666" stroke-width="1.6" />
<line x1="28.70" y1="415.50" x2="28.70" y2="419.50" stroke="#666" stroke-width="1.6" />
<line x1="80.36" y1="415.50" x2="80.36" y2="419.50" stroke="#666" stroke-width="1.6" />
<line x1="132.02" y1="415.50" x2="132.02" y2="419.50" stroke="#666" stroke-width="1.6" />
<line x1="183.68" y1="415.50" x2="183.68" y2="419.50" stroke="#666" stroke-width="1.6" />
<line x1="235.34" y1="415.50" x2="235.34" y2="419.50" stroke="#666" stroke-width="1.6" />
<line x1="287.00" y1="415.50" x2="287.00" y2="419.50" stroke="#666" stroke-width="1.6" />
<line x1="338.66" y1="415.50" x2="338.66" y2="419.50" stroke="#666" stroke-width="1.6" />
<line x1="390.32" y1="415.50" x2="390.32" y2="419.50" stroke="#666" stroke-width="1.6" />
<line x1="441.98" y1="415.50" x2="441.98" y2="419.50" stroke="#666" stroke-width="1.6" />
<line x1="28.70" y1="616.80" x2="28.70" y2="612.80" stroke="#666" stroke-width="1.6" />
<line x1="80.36" y1="616.80" x2="80.36" y2="612.80" stroke="#666" stroke-width="1.6" />
<line x1="132.02" y1="616.80" x2="132.02" y2="612.80" stroke="#666" stroke-width="1.6" />
<line x1="183.68" y1="616.80" x2="183.68" y2="612.80" stroke="#666" stroke-width="1.6" />
<line x1="235.34" y1="616.80" x2="235.34" y2="612.80" stroke="#666" stroke-width="1.6" />
<line x1="287.00" y1="616.80" x2="287.00" y2="612.80" stroke="#666" stroke-width="1.6" />
<line x1="338.66" y1="616.80" x2="338.66" y2="612.80" stroke="#666" stroke-width="1.6" />
<line x1="390.32" y1="616.80" x2="390.32" y2="612.80" stroke="#666" stroke-width="1.6" />
<line x1="441.98" y1="616.80" x2="441.98" y2="612.80" stroke="#666" stroke-width="1.6" />
<line x1="4.50" y1="459.40" x2="8.50" y2="459.40" stroke="#666" stroke-width="1.6" />
<line x1="4.50" y1="505.40" x2="8.50" y2="505.40" stroke="#666" stroke-width="1.6" />
<line x1="4.50" y1="551.40" x2="8.50" y2="551.40" stroke="#666" stroke-width="1.6" />
<line x1="4.50" y1="597.40" x2="8.50" y2="597.40" stroke="#666" stroke-width="1.6" />
<line x1="456.00" y1="459.40" x2="452.00" y2="459.40" stroke="#666" stroke-width="1.6" />
<line x1="456.00" y1="505.40" x2="452.00" y2="505.40" stroke="#666" stroke-width="1.6" />
<line x1="456.00" y1="551.40" x2="452.00" y2="551.40" stroke="#666" stroke-width="1.6" />
<line x1="456.00" y1="597.40" x2="452.00" y2="597.40" stroke="#666" stroke-width="1.6" />
<line x1="553.20" y1="212.50" x2="553.20" y2="216.50" stroke="#666" stroke-width="1.6" />
<line x1="644.60" y1="212.50" x2="644.60" y2="216.50" stroke="#666" stroke-width="1.6" />
<line x1="737.00" y1="212.50" x2="737.00" y2="216.50" stroke="#666" stroke-width="1.6" />
<line x1="553.20" y1="369.30" x2="553.20" y2="365.30" stroke="#666" stroke-width="1.6" />
<line x1="644.60" y1="369.30" x2="644.60" y2="365.30" stroke="#666" stroke-width="1.6" />
<line x1="737.00" y1="369.30" x2="737.00" y2="365.30" stroke="#666" stroke-width="1.6" />
<line x1="500.00" y1="229.00" x2="504.00" y2="229.00" stroke="#666" stroke-width="1.6" />
<line x1="500.00" y1="264.10" x2="504.00" y2="264.10" stroke="#666" stroke-width="1.6" />
<line x1="500.00" y1="299.20" x2="504.00" y2="299.20" stroke="#666" stroke-width="1.6" />
<line x1="500.00" y1="334.30" x2="504.00" y2="334.30" stroke="#666" stroke-width="1.6" />
<line x1="771.00" y1="229.00" x2="767.00" y2="229.00" stroke="#666" stroke-width="1.6" />
<line x1="771.00" y1="264.10" x2="767.00" y2="264.10" stroke="#666" stroke-width="1.6" />
<line x1="771.00" y1="299.20" x2="767.00" y2="299.20" stroke="#666" stroke-width="1.6" />
<line x1="771.00" y1="334.30" x2="767.00" y2="334.30" stroke="#666" stroke-width="1.6" />
<line x1="532.80" y1="436.70" x2="532.80" y2="440.70" stroke="#666" stroke-width="1.6" />
<line x1="578.30" y1="436.70" x2="578.30" y2="440.70" stroke="#666" stroke-width="1.6" />
<line x1="623.80" y1="436.70" x2="623.80" y2="440.70" stroke="#666" stroke-width="1.6" />
<line x1="669.30" y1="436.70" x2="669.30" y2="440.70" stroke="#666" stroke-width="1.6" />
<line x1="714.80" y1="436.70" x2="714.80" y2="440.70" stroke="#666" stroke-width="1.6" />
<line x1="760.30" y1="436.70" x2="760.30" y2="440.70" stroke="#666" stroke-width="1.6" />
<line x1="532.80" y1="594.20" x2="532.80" y2="590.20" stroke="#666" stroke-width="1.6" />
<line x1="578.30" y1="594.20" x2="578.30" y2="590.20" stroke="#666" stroke-width="1.6" />
<line x1="623.80" y1="594.20" x2="623.80" y2="590.20" stroke="#666" stroke-width="1.6" />
<line x1="669.30" y1="594.20" x2="669.30" y2="590.20" stroke="#666" stroke-width="1.6" />
<line x1="714.80" y1="594.20" x2="714.80" y2="590.20" stroke="#666" stroke-width="1.6" />
<line x1="760.30" y1="594.20" x2="760.30" y2="590.20" stroke="#666" stroke-width="1.6" />
<line x1="501.00" y1="445.20" x2="505.00" y2="445.20" stroke="#666" stroke-width="1.6" />
<line x1="501.00" y1="502.60" x2="505.00" y2="502.60" stroke="#666" stroke-width="1.6" />
<line x1="501.00" y1="559.90" x2="505.00" y2="559.90" stroke="#666" stroke-width="1.6" />
<line x1="772.50" y1="445.20" x2="768.50" y2="445.20" stroke="#666" stroke-width="1.6" />
<line x1="772.50" y1="502.60" x2="768.50" y2="502.60" stroke="#666" stroke-width="1.6" />
<line x1="772.50" y1="559.90" x2="768.50" y2="559.90" stroke="#666" stroke-width="1.6" />
<line x1="864.80" y1="6.30" x2="864.80" y2="10.30" stroke="#666" stroke-width="1.6" />
<line x1="921.40" y1="6.30" x2="921.40" y2="10.30" stroke="#666" stroke-width="1.6" />
<line x1="978.00" y1="6.30" x2="978.00" y2="10.30" stroke="#666" stroke-width="1.6" />
<line x1="1034.60" y1="6.30" x2="1034.60" y2="10.30" stroke="#666" stroke-width="1.6" />
<line x1="1091.20" y1="6.30" x2="1091.20" y2="10.30" stroke="#666" stroke-width="1.6" />
<line x1="1147.80" y1="6.30" x2="1147.80" y2="10.30" stroke="#666" stroke-width="1.6" />
<line x1="1204.40" y1="6.30" x2="1204.40" y2="10.30" stroke="#666" stroke-width="1.6" />
<line x1="864.80" y1="320.20" x2="864.80" y2="316.20" stroke="#666" stroke-width="1.6" />
<line x1="921.40" y1="320.20" x2="921.40" y2="316.20" stroke="#666" stroke-width="1.6" />
<line x1="978.00" y1="320.20" x2="978.00" y2="316.20" stroke="#666" stroke-width="1.6" />
<line x1="1034.60" y1="320.20" x2="1034.60" y2="316.20" stroke="#666" stroke-width="1.6" />
<line x1="1091.20" y1="320.20" x2="1091.20" y2="316.20" stroke="#666" stroke-width="1.6" />
<line x1="1147.80" y1="320.20" x2="1147.80" y2="316.20" stroke="#666" stroke-width="1.6" />
<line x1="1204.40" y1="320.20" x2="1204.40" y2="316.20" stroke="#666" stroke-width="1.6" />
<line x1="809.00" y1="76.80" x2="813.00" y2="76.80" stroke="#666" stroke-width="1.6" />
<line x1="809.00" y1="148.50" x2="813.00" y2="148.50" stroke="#666" stroke-width="1.6" />
<line x1="809.00" y1="220.20" x2="813.00" y2="220.20" stroke="#666" stroke-width="1.6" />
<line x1="809.00" y1="292.00" x2="813.00" y2="292.00" stroke="#666" stroke-width="1.6" />
<line x1="1261.00" y1="76.80" x2="1257.00" y2="76.80" stroke="#666" stroke-width="1.6" />
<line x1="1261.00" y1="148.50" x2="1257.00" y2="148.50" stroke="#666" stroke-width="1.6" />
<line x1="1261.00" y1="220.20" x2="1257.00" y2="220.20" stroke="#666" stroke-width="1.6" />
<line x1="1261.00" y1="292.00" x2="1257.00" y2="292.00" stroke="#666" stroke-width="1.6" />
<line x1="864.80" y1="320.20" x2="864.80" y2="324.20" stroke="#666" stroke-width="1.6" />
<line x1="921.40" y1="320.20" x2="921.40" y2="324.20" stroke="#666" stroke-width="1.6" />
<line x1="978.00" y1="320.20" x2="978.00" y2="324.20" stroke="#666" stroke-width="1.6" />
<line x1="1034.60" y1="320.20" x2="1034.60" y2="324.20" stroke="#666" stroke-width="1.6" />
<line x1="1091.20" y1="320.20" x2="1091.20" y2="324.20" stroke="#666" stroke-width="1.6" />
<line x1="1147.80" y1="320.20" x2="1147.80" y2="324.20" stroke="#666" stroke-width="1.6" />
<line x1="1204.40" y1="320.20" x2="1204.40" y2="324.20" stroke="#666" stroke-width="1.6" />
<line x1="864.80" y1="612.50" x2="864.80" y2="608.50" stroke="#666" stroke-width="1.6" />
<line x1="921.40" y1="612.50" x2="921.40" y2="608.50" stroke="#666" stroke-width="1.6" />
<line x1="978.00" y1="612.50" x2="978.00" y2="608.50" stroke="#666" stroke-width="1.6" />
<line x1="1034.60" y1="612.50" x2="1034.60" y2="608.50" stroke="#666" stroke-width="1.6" />
<line x1="1091.20" y1="612.50" x2="1091.20" y2="608.50" stroke="#666" stroke-width="1.6" />
<line x1="1147.80" y1="612.50" x2="1147.80" y2="608.50" stroke="#666" stroke-width="1.6" />
<line x1="1204.40" y1="612.50" x2="1204.40" y2="608.50" stroke="#666" stroke-width="1.6" />
<line x1="809.30" y1="335.80" x2="813.30" y2="335.80" stroke="#666" stroke-width="1.6" />
<line x1="809.30" y1="368.30" x2="813.30" y2="368.30" stroke="#666" stroke-width="1.6" />
<line x1="809.30" y1="400.80" x2="813.30" y2="400.80" stroke="#666" stroke-width="1.6" />
<line x1="809.30" y1="433.30" x2="813.30" y2="433.30" stroke="#666" stroke-width="1.6" />
<line x1="809.30" y1="465.80" x2="813.30" y2="465.80" stroke="#666" stroke-width="1.6" />
<line x1="809.30" y1="498.30" x2="813.30" y2="498.30" stroke="#666" stroke-width="1.6" />
<line x1="809.30" y1="530.80" x2="813.30" y2="530.80" stroke="#666" stroke-width="1.6" />
<line x1="809.30" y1="563.30" x2="813.30" y2="563.30" stroke="#666" stroke-width="1.6" />
<line x1="809.30" y1="595.80" x2="813.30" y2="595.80" stroke="#666" stroke-width="1.6" />
<line x1="1261.20" y1="335.80" x2="1257.20" y2="335.80" stroke="#666" stroke-width="1.6" />
<line x1="1261.20" y1="368.30" x2="1257.20" y2="368.30" stroke="#666" stroke-width="1.6" />
<line x1="1261.20" y1="400.80" x2="1257.20" y2="400.80" stroke="#666" stroke-width="1.6" />
<line x1="1261.20" y1="433.30" x2="1257.20" y2="433.30" stroke="#666" stroke-width="1.6" />
<line x1="1261.20" y1="465.80" x2="1257.20" y2="465.80" stroke="#666" stroke-width="1.6" />
<line x1="1261.20" y1="498.30" x2="1257.20" y2="498.30" stroke="#666" stroke-width="1.6" />
<line x1="1261.20" y1="530.80" x2="1257.20" y2="530.80" stroke="#666" stroke-width="1.6" />
<line x1="1261.20" y1="563.30" x2="1257.20" y2="563.30" stroke="#666" stroke-width="1.6" />
<line x1="1261.20" y1="595.80" x2="1257.20" y2="595.80" stroke="#666" stroke-width="1.6" />
<text x="28.70" y="635.90" font-size="18.0" fill="#5a5a5a" text-anchor="middle" font-weight="normal" textLength="33" lengthAdjust="spacingAndGlyphs" stroke="#5a5a5a" stroke-width="0.35">2800</text>
<text x="80.36" y="635.90" font-size="18.0" fill="#5a5a5a" text-anchor="middle" font-weight="normal" textLength="33" lengthAdjust="spacingAndGlyphs" stroke="#5a5a5a" stroke-width="0.35">3000</text>
<text x="132.02" y="635.90" font-size="18.0" fill="#5a5a5a" text-anchor="middle" font-weight="normal" textLength="33" lengthAdjust="spacingAndGlyphs" stroke="#5a5a5a" stroke-width="0.35">3200</text>
<text x="183.68" y="635.90" font-size="18.0" fill="#5a5a5a" text-anchor="middle" font-weight="normal" textLength="33" lengthAdjust="spacingAndGlyphs" stroke="#5a5a5a" stroke-width="0.35">3400</text>
<text x="235.34" y="635.90" font-size="18.0" fill="#5a5a5a" text-anchor="middle" font-weight="normal" textLength="33" lengthAdjust="spacingAndGlyphs" stroke="#5a5a5a" stroke-width="0.35">3600</text>
<text x="287.00" y="635.90" font-size="18.0" fill="#5a5a5a" text-anchor="middle" font-weight="normal" textLength="33" lengthAdjust="spacingAndGlyphs" stroke="#5a5a5a" stroke-width="0.35">3800</text>
<text x="338.66" y="635.90" font-size="18.0" fill="#5a5a5a" text-anchor="middle" font-weight="normal" textLength="33" lengthAdjust="spacingAndGlyphs" stroke="#5a5a5a" stroke-width="0.35">4000</text>
<text x="390.32" y="635.90" font-size="18.0" fill="#5a5a5a" text-anchor="middle" font-weight="normal" textLength="33" lengthAdjust="spacingAndGlyphs" stroke="#5a5a5a" stroke-width="0.35">4200</text>
<text x="441.98" y="635.90" font-size="18.0" fill="#5a5a5a" text-anchor="middle" font-weight="normal" textLength="33" lengthAdjust="spacingAndGlyphs" stroke="#5a5a5a" stroke-width="0.35">4400</text>
<text x="553.20" y="388.00" font-size="18.0" fill="#5a5a5a" text-anchor="middle" font-weight="normal" textLength="33" lengthAdjust="spacingAndGlyphs" stroke="#5a5a5a" stroke-width="0.35">3550</text>
<text x="644.60" y="388.00" font-size="18.0" fill="#5a5a5a" text-anchor="middle" font-weight="normal" textLength="33" lengthAdjust="spacingAndGlyphs" stroke="#5a5a5a" stroke-width="0.35">3600</text>
<text x="737.00" y="388.00" font-size="18.0" fill="#5a5a5a" text-anchor="middle" font-weight="normal" textLength="33" lengthAdjust="spacingAndGlyphs" stroke="#5a5a5a" stroke-width="0.35">3650</text>
<text x="532.80" y="613.30" font-size="18.0" fill="#5a5a5a" text-anchor="middle" font-weight="normal" textLength="33" lengthAdjust="spacingAndGlyphs" stroke="#5a5a5a" stroke-width="0.35">2900</text>
<text x="578.30" y="613.30" font-size="18.0" fill="#5a5a5a" text-anchor="middle" font-weight="normal" textLength="33" lengthAdjust="spacingAndGlyphs" stroke="#5a5a5a" stroke-width="0.35">3000</text>
<text x="623.80" y="613.30" font-size="18.0" fill="#5a5a5a" text-anchor="middle" font-weight="normal" textLength="33" lengthAdjust="spacingAndGlyphs" stroke="#5a5a5a" stroke-width="0.35">3100</text>
<text x="669.30" y="613.30" font-size="18.0" fill="#5a5a5a" text-anchor="middle" font-weight="normal" textLength="33" lengthAdjust="spacingAndGlyphs" stroke="#5a5a5a" stroke-width="0.35">3200</text>
<text x="714.80" y="613.30" font-size="18.0" fill="#5a5a5a" text-anchor="middle" font-weight="normal" textLength="33" lengthAdjust="spacingAndGlyphs" stroke="#5a5a5a" stroke-width="0.35">3300</text>
<text x="760.30" y="613.30" font-size="18.0" fill="#5a5a5a" text-anchor="middle" font-weight="normal" textLength="33" lengthAdjust="spacingAndGlyphs" stroke="#5a5a5a" stroke-width="0.35">3400</text>
<text x="864.80" y="632.20" font-size="18.0" fill="#5a5a5a" text-anchor="middle" font-weight="normal" textLength="33" lengthAdjust="spacingAndGlyphs" stroke="#5a5a5a" stroke-width="0.35">3000</text>
<text x="921.40" y="632.20" font-size="18.0" fill="#5a5a5a" text-anchor="middle" font-weight="normal" textLength="33" lengthAdjust="spacingAndGlyphs" stroke="#5a5a5a" stroke-width="0.35">3200</text>
<text x="978.00" y="632.20" font-size="18.0" fill="#5a5a5a" text-anchor="middle" font-weight="normal" textLength="33" lengthAdjust="spacingAndGlyphs" stroke="#5a5a5a" stroke-width="0.35">3400</text>
<text x="1034.60" y="632.20" font-size="18.0" fill="#5a5a5a" text-anchor="middle" font-weight="normal" textLength="33" lengthAdjust="spacingAndGlyphs" stroke="#5a5a5a" stroke-width="0.35">3600</text>
<text x="1091.20" y="632.20" font-size="18.0" fill="#5a5a5a" text-anchor="middle" font-weight="normal" textLength="33" lengthAdjust="spacingAndGlyphs" stroke="#5a5a5a" stroke-width="0.35">3800</text>
<text x="1147.80" y="632.20" font-size="18.0" fill="#5a5a5a" text-anchor="middle" font-weight="normal" textLength="33" lengthAdjust="spacingAndGlyphs" stroke="#5a5a5a" stroke-width="0.35">4000</text>
<text x="1204.40" y="632.20" font-size="18.0" fill="#5a5a5a" text-anchor="middle" font-weight="normal" textLength="33" lengthAdjust="spacingAndGlyphs" stroke="#5a5a5a" stroke-width="0.35">4200</text>
<text x="1261.00" y="632.20" font-size="18.0" fill="#5a5a5a" text-anchor="middle" font-weight="normal" textLength="33" lengthAdjust="spacingAndGlyphs" stroke="#5a5a5a" stroke-width="0.35">4400</text>
<text x="228.80" y="659.00" font-size="20" fill="#333333" text-anchor="middle" font-weight="normal" textLength="83" lengthAdjust="spacingAndGlyphs" >Field (G)</text>
<text x="634.50" y="411.00" font-size="20" fill="#333333" text-anchor="middle" font-weight="normal" textLength="83" lengthAdjust="spacingAndGlyphs" >Field (G)</text>
<text x="635.30" y="636.20" font-size="20" fill="#333333" text-anchor="middle" font-weight="normal" textLength="83" lengthAdjust="spacingAndGlyphs" >Field (G)</text>
<text x="1034.00" y="655.50" font-size="20" fill="#333333" text-anchor="middle" font-weight="normal" textLength="83" lengthAdjust="spacingAndGlyphs" >Field (G)</text>
<text x="436.20" y="46.60" font-size="32.5" fill="#000" text-anchor="middle" font-weight="normal" stroke="#000" stroke-width="0.6" transform="translate(436.2,0) scale(1.0,1) translate(-436.2,0)">A</text>
<text x="436.30" y="248.00" font-size="32.5" fill="#000" text-anchor="middle" font-weight="normal" stroke="#000" stroke-width="0.6" transform="translate(436.3,0) scale(0.97,1) translate(-436.3,0)">B</text>
<text x="436.20" y="451.60" font-size="32.5" fill="#000" text-anchor="middle" font-weight="normal" stroke="#000" stroke-width="0.6" transform="translate(436.2,0) scale(0.87,1) translate(-436.2,0)">C</text>
<text x="752.50" y="248.00" font-size="32.5" fill="#000" text-anchor="middle" font-weight="normal" stroke="#000" stroke-width="0.6" transform="translate(752.5,0) scale(1.0,1) translate(-752.5,0)">D</text>
<text x="752.90" y="469.90" font-size="32.5" fill="#000" text-anchor="middle" font-weight="normal" stroke="#000" stroke-width="0.6" transform="translate(752.9,0) scale(0.74,1) translate(-752.9,0)">E</text>
<text x="1245.30" y="47.20" font-size="32.5" fill="#000" text-anchor="middle" font-weight="normal" stroke="#000" stroke-width="0.6" transform="translate(1245.3,0) scale(0.85,1) translate(-1245.3,0)">F</text>
<text x="1247.40" y="363.80" font-size="32.5" fill="#000" text-anchor="middle" font-weight="normal" stroke="#000" stroke-width="0.6" transform="translate(1247.4,0) scale(0.87,1) translate(-1247.4,0)">G</text>
<rect x="478.00" y="9.10" width="158.60" height="172.30" fill="none" stroke="#8a8a8a" stroke-width="2.0"/>
<line x1="487.00" y1="24.40" x2="532.50" y2="24.40" stroke="#d8434f" stroke-width="2.4" />
<text x="536.8" y="27.30" font-size="15.3" fill="#5e5e5e" textLength="92.5" lengthAdjust="spacingAndGlyphs">[H<tspan font-size="11" dy="6">2</tspan><tspan dy="-6">SO</tspan><tspan font-size="11" dy="6">4</tspan><tspan dy="-6">] = 0M</tspan></text>
<line x1="487.00" y1="52.30" x2="532.50" y2="52.30" stroke="#e1a045" stroke-width="2.4" />
<text x="536.8" y="55.20" font-size="15.3" fill="#5e5e5e" textLength="92.5" lengthAdjust="spacingAndGlyphs">[H<tspan font-size="11" dy="6">2</tspan><tspan dy="-6">SO</tspan><tspan font-size="11" dy="6">4</tspan><tspan dy="-6">] = 1M</tspan></text>
<line x1="487.00" y1="80.20" x2="532.50" y2="80.20" stroke="#4fcf4f" stroke-width="2.4" />
<text x="536.8" y="83.10" font-size="15.3" fill="#5e5e5e" textLength="92.5" lengthAdjust="spacingAndGlyphs">[H<tspan font-size="11" dy="6">2</tspan><tspan dy="-6">SO</tspan><tspan font-size="11" dy="6">4</tspan><tspan dy="-6">] = 2M</tspan></text>
<line x1="487.00" y1="108.10" x2="532.50" y2="108.10" stroke="#3b3fc8" stroke-width="2.4" />
<text x="536.8" y="111.00" font-size="15.3" fill="#5e5e5e" textLength="92.5" lengthAdjust="spacingAndGlyphs">[H<tspan font-size="11" dy="6">2</tspan><tspan dy="-6">SO</tspan><tspan font-size="11" dy="6">4</tspan><tspan dy="-6">] = 3M</tspan></text>
<line x1="487.00" y1="136.00" x2="532.50" y2="136.00" stroke="#c43fc8" stroke-width="2.4" />
<text x="536.8" y="138.90" font-size="15.3" fill="#5e5e5e" textLength="92.5" lengthAdjust="spacingAndGlyphs">[H<tspan font-size="11" dy="6">2</tspan><tspan dy="-6">SO</tspan><tspan font-size="11" dy="6">4</tspan><tspan dy="-6">] = 4M</tspan></text>
<line x1="487.00" y1="163.90" x2="532.50" y2="163.90" stroke="#222222" stroke-width="2.4" />
<text x="536.8" y="166.80" font-size="15.3" fill="#5e5e5e" textLength="92.5" lengthAdjust="spacingAndGlyphs">[H<tspan font-size="11" dy="6">2</tspan><tspan dy="-6">SO</tspan><tspan font-size="11" dy="6">4</tspan><tspan dy="-6">] = 5M</tspan></text>
</svg></body></html>
